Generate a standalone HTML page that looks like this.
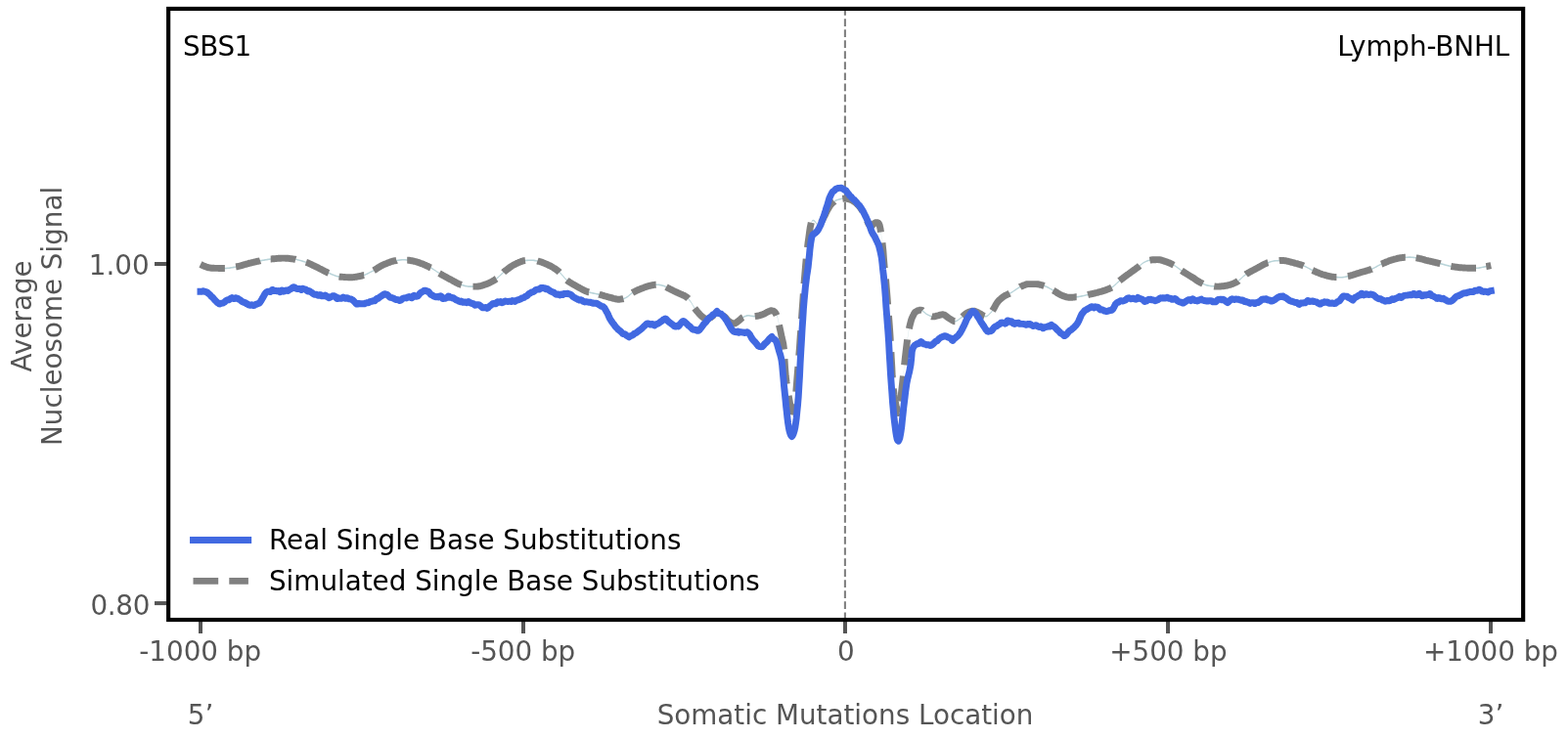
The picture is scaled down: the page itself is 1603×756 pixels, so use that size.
<!DOCTYPE html>
<html lang="en"><head><meta charset="utf-8"><title>SBS1 Lymph-BNHL nucleosome occupancy</title>
<style>
html,body{margin:0;padding:0;background:#fff;}
body{width:1603px;height:756px;overflow:hidden;}
svg{display:block;}
</style></head><body>
<svg width="1603" height="756" viewBox="0 0 1603 756">
<rect width="1603" height="756" fill="#ffffff"/>
<path d="M205.0,269.6 L206.0,270.1 L207.0,270.6 L208.0,271.1 L209.0,271.5 L210.0,271.9 L211.0,272.3 L212.0,272.6 L213.0,272.9 L214.0,273.1 L215.0,273.2 L216.0,273.3 L217.0,273.4 L218.0,273.5 L219.0,273.6 L220.0,273.6 L221.0,273.6 L222.0,273.6 L223.0,273.6 L224.0,273.7 L225.0,273.7 L226.0,273.7 L227.0,273.7 L228.0,273.7 L229.0,273.7 L230.0,273.7 L231.0,273.7 L232.0,273.6 L233.0,273.5 L234.0,273.4 L235.0,273.3 L236.0,273.1 L237.0,273.0 L238.0,272.8 L239.0,272.6 L240.0,272.4 L241.0,272.2 L242.0,272.0 L243.0,271.8 L244.0,271.6 L245.0,271.3 L246.0,271.1 L247.0,270.8 L248.0,270.5 L249.0,270.2 L250.0,269.9 L251.0,269.6 L252.0,269.3 L253.0,269.0 L254.0,268.8 L255.0,268.5 L256.0,268.3 L257.0,268.0 L258.0,267.8 L259.0,267.5 L260.0,267.3 L261.0,267.0 L262.0,266.8 L263.0,266.6 L264.0,266.4 L265.0,266.2 L266.0,266.0 L267.0,265.8 L268.0,265.6 L269.0,265.4 L270.0,265.3 L271.0,265.1 L272.0,264.9 L273.0,264.8 L274.0,264.6 L275.0,264.5 L276.0,264.3 L277.0,264.2 L278.0,264.1 L279.0,264.0 L280.0,263.9 L281.0,263.8 L282.0,263.7 L283.0,263.6 L284.0,263.6 L285.0,263.5 L286.0,263.4 L287.0,263.4 L288.0,263.3 L289.0,263.3 L290.0,263.3 L291.0,263.3 L292.0,263.4 L293.0,263.4 L294.0,263.5 L295.0,263.6 L296.0,263.7 L297.0,263.8 L298.0,263.9 L299.0,264.1 L300.0,264.2 L301.0,264.3 L302.0,264.5 L303.0,264.7 L304.0,264.9 L305.0,265.2 L306.0,265.4 L307.0,265.7 L308.0,266.0 L309.0,266.3 L310.0,266.6 L311.0,266.9 L312.0,267.2 L313.0,267.5 L314.0,267.9 L315.0,268.3 L316.0,268.7 L317.0,269.2 L318.0,269.6 L319.0,270.1 L320.0,270.6 L321.0,271.1 L322.0,271.6 L323.0,272.1 L324.0,272.5 L325.0,273.0 L326.0,273.5 L327.0,274.1 L328.0,274.6 L329.0,275.1 L330.0,275.6 L331.0,276.2 L332.0,276.7 L333.0,277.2 L334.0,277.6 L335.0,278.1 L336.0,278.5 L337.0,278.9 L338.0,279.3 L339.0,279.8 L340.0,280.2 L341.0,280.6 L342.0,281.0 L343.0,281.3 L344.0,281.7 L345.0,281.9 L346.0,282.1 L347.0,282.3 L348.0,282.4 L349.0,282.5 L350.0,282.5 L351.0,282.6 L352.0,282.7 L353.0,282.7 L354.0,282.8 L355.0,282.8 L356.0,282.9 L357.0,282.9 L358.0,282.9 L359.0,282.9 L360.0,282.9 L361.0,282.8 L362.0,282.7 L363.0,282.6 L364.0,282.4 L365.0,282.3 L366.0,282.1 L367.0,281.9 L368.0,281.7 L369.0,281.5 L370.0,281.2 L371.0,281.0 L372.0,280.7 L373.0,280.4 L374.0,280.0 L375.0,279.5 L376.0,279.1 L377.0,278.5 L378.0,278.0 L379.0,277.5 L380.0,277.0 L381.0,276.5 L382.0,275.9 L383.0,275.3 L384.0,274.7 L385.0,274.1 L386.0,273.4 L387.0,272.8 L388.0,272.2 L389.0,271.6 L390.0,271.0 L391.0,270.5 L392.0,270.0 L393.0,269.6 L394.0,269.2 L395.0,268.8 L396.0,268.4 L397.0,268.0 L398.0,267.6 L399.0,267.2 L400.0,266.9 L401.0,266.6 L402.0,266.3 L403.0,266.1 L404.0,265.9 L405.0,265.7 L406.0,265.6 L407.0,265.4 L408.0,265.3 L409.0,265.2 L410.0,265.1 L411.0,265.0 L412.0,265.0 L413.0,265.0 L414.0,265.0 L415.0,265.1 L416.0,265.2 L417.0,265.3 L418.0,265.5 L419.0,265.6 L420.0,265.8 L421.0,266.0 L422.0,266.1 L423.0,266.4 L424.0,266.6 L425.0,266.9 L426.0,267.2 L427.0,267.5 L428.0,267.8 L429.0,268.2 L430.0,268.5 L431.0,268.9 L432.0,269.2 L433.0,269.6 L434.0,270.1 L435.0,270.5 L436.0,271.0 L437.0,271.4 L438.0,271.9 L439.0,272.4 L440.0,273.0 L441.0,273.5 L442.0,274.1 L443.0,274.7 L444.0,275.4 L445.0,276.0 L446.0,276.7 L447.0,277.4 L448.0,278.0 L449.0,278.7 L450.0,279.3 L451.0,279.8 L452.0,280.4 L453.0,281.0 L454.0,281.6 L455.0,282.1 L456.0,282.7 L457.0,283.2 L458.0,283.8 L459.0,284.3 L460.0,284.8 L461.0,285.3 L462.0,285.9 L463.0,286.4 L464.0,287.0 L465.0,287.6 L466.0,288.1 L467.0,288.7 L468.0,289.2 L469.0,289.6 L470.0,290.0 L471.0,290.4 L472.0,290.7 L473.0,291.0 L474.0,291.3 L475.0,291.6 L476.0,291.8 L477.0,292.0 L478.0,292.2 L479.0,292.3 L480.0,292.3 L481.0,292.3 L482.0,292.3 L483.0,292.3 L484.0,292.3 L485.0,292.3 L486.0,292.3 L487.0,292.3 L488.0,292.3 L489.0,292.2 L490.0,292.0 L491.0,291.8 L492.0,291.6 L493.0,291.3 L494.0,290.9 L495.0,290.6 L496.0,290.2 L497.0,289.9 L498.0,289.6 L499.0,289.2 L500.0,288.7 L501.0,288.3 L502.0,287.7 L503.0,287.2 L504.0,286.6 L505.0,286.0 L506.0,285.4 L507.0,284.7 L508.0,283.9 L509.0,283.1 L510.0,282.2 L511.0,281.2 L512.0,280.3 L513.0,279.3 L514.0,278.4 L515.0,277.5 L516.0,276.7 L517.0,275.9 L518.0,275.2 L519.0,274.4 L520.0,273.6 L521.0,272.9 L522.0,272.2 L523.0,271.5 L524.0,270.9 L525.0,270.3 L526.0,269.8 L527.0,269.3 L528.0,268.8 L529.0,268.3 L530.0,267.9 L531.0,267.4 L532.0,267.0 L533.0,266.7 L534.0,266.3 L535.0,266.1 L536.0,265.9 L537.0,265.7 L538.0,265.6 L539.0,265.6 L540.0,265.5 L541.0,265.5 L542.0,265.4 L543.0,265.4 L544.0,265.4 L545.0,265.5 L546.0,265.6 L547.0,265.8 L548.0,266.0 L549.0,266.2 L550.0,266.4 L551.0,266.6 L552.0,266.9 L553.0,267.2 L554.0,267.5 L555.0,267.9 L556.0,268.2 L557.0,268.7 L558.0,269.1 L559.0,269.5 L560.0,270.0 L561.0,270.4 L562.0,270.9 L563.0,271.5 L564.0,272.0 L565.0,272.6 L566.0,273.2 L567.0,273.9 L568.0,274.5 L569.0,275.3 L570.0,276.0 L571.0,276.8 L572.0,277.7 L573.0,278.7 L574.0,279.8 L575.0,280.9 L576.0,282.1 L577.0,283.3 L578.0,284.4 L579.0,285.3 L580.0,286.2 L581.0,286.9 L582.0,287.6 L583.0,288.3 L584.0,288.9 L585.0,289.5 L586.0,290.1 L587.0,290.7 L588.0,291.2 L589.0,291.8 L590.0,292.3 L591.0,292.9 L592.0,293.4 L593.0,294.0 L594.0,294.6 L595.0,295.1 L596.0,295.7 L597.0,296.2 L598.0,296.6 L599.0,297.1 L600.0,297.5 L601.0,297.8 L602.0,298.1 L603.0,298.4 L604.0,298.6 L605.0,298.9 L606.0,299.1 L607.0,299.3 L608.0,299.5 L609.0,299.7 L610.0,299.9 L611.0,300.1 L612.0,300.3 L613.0,300.6 L614.0,300.8 L615.0,301.1 L616.0,301.4 L617.0,301.7 L618.0,301.9 L619.0,302.2 L620.0,302.5 L621.0,302.8 L622.0,303.1 L623.0,303.3 L624.0,303.6 L625.0,303.8 L626.0,304.1 L627.0,304.4 L628.0,304.7 L629.0,305.0 L630.0,305.2 L631.0,305.3 L632.0,305.4 L633.0,305.4 L634.0,305.3 L635.0,305.2 L636.0,305.1 L637.0,304.9 L638.0,304.6 L639.0,304.2 L640.0,303.7 L641.0,303.1 L642.0,302.4 L643.0,301.6 L644.0,300.7 L645.0,299.8 L646.0,299.1 L647.0,298.4 L648.0,297.9 L649.0,297.3 L650.0,296.8 L651.0,296.4 L652.0,295.9 L653.0,295.5 L654.0,295.1 L655.0,294.7 L656.0,294.3 L657.0,293.9 L658.0,293.5 L659.0,293.1 L660.0,292.8 L661.0,292.4 L662.0,292.1 L663.0,291.8 L664.0,291.6 L665.0,291.4 L666.0,291.1 L667.0,290.9 L668.0,290.7 L669.0,290.6 L670.0,290.4 L671.0,290.4 L672.0,290.4 L673.0,290.5 L674.0,290.6 L675.0,290.8 L676.0,291.0 L677.0,291.3 L678.0,291.5 L679.0,291.8 L680.0,292.2 L681.0,292.7 L682.0,293.3 L683.0,293.9 L684.0,294.4 L685.0,294.9 L686.0,295.4 L687.0,295.9 L688.0,296.4 L689.0,296.9 L690.0,297.4 L691.0,297.9 L692.0,298.4 L693.0,298.8 L694.0,299.3 L695.0,299.7 L696.0,300.1 L697.0,300.5 L698.0,301.0 L699.0,301.4 L700.0,301.9 L701.0,302.5 L702.0,303.2 L703.0,304.0 L704.0,305.1 L705.0,306.4 L706.0,307.7 L707.0,309.2 L708.0,311.0 L709.0,312.7 L710.0,314.3 L711.0,315.7 L712.0,316.9 L713.0,318.1 L714.0,319.3 L715.0,320.3 L716.0,321.4 L717.0,322.4 L718.0,323.3 L719.0,324.0 L720.0,324.7 L721.0,325.3 L722.0,325.5 L723.0,325.4 L724.0,325.1 L725.0,324.6 L726.0,324.2 L727.0,323.7 L728.0,322.9 L729.0,322.1 L730.0,321.4 L731.0,320.7 L732.0,320.2 L733.0,320.0 L734.0,320.1 L735.0,320.3 L736.0,320.7 L737.0,321.1 L738.0,321.6 L739.0,322.1 L740.0,322.7 L741.0,323.4 L742.0,324.5 L743.0,325.6 L744.0,326.8 L745.0,327.8 L746.0,328.5 L747.0,329.0 L748.0,329.5 L749.0,329.9 L750.0,330.2 L751.0,330.1 L752.0,329.7 L753.0,329.0 L754.0,328.3 L755.0,327.5 L756.0,326.7 L757.0,325.8 L758.0,324.9 L759.0,324.1 L760.0,323.6 L761.0,323.1 L762.0,322.7 L763.0,322.3 L764.0,322.1 L765.0,322.0 L766.0,322.1 L767.0,322.2 L768.0,322.4 L769.0,322.6 L770.0,322.7 L771.0,322.8 L772.0,322.8 L773.0,322.7 L774.0,322.5 L775.0,322.3 L776.0,322.0 L777.0,321.8 L778.0,321.4 L779.0,321.1 L780.0,320.8 L781.0,320.4 L782.0,319.9 L783.0,319.3 L784.0,318.7 L785.0,318.2 L786.0,317.7 L787.0,317.3 L788.0,317.0 L789.0,317.0 L790.0,317.3 L791.0,317.6 L792.0,318.4 L793.0,319.8 L794.0,321.7 L795.0,324.5 L796.0,329.0 L797.0,333.9 L798.0,338.5 L799.0,343.2 L800.0,347.6 L801.0,352.5 L802.0,366.5 L803.0,381.0 L804.0,390.0 L805.0,396.7 L806.0,403.0 L807.0,408.9 L808.0,414.5 L809.0,420.0 L810.0,419.5 L811.0,415.0 L812.0,411.5 L813.0,407.2 L814.0,397.9 L815.0,385.4 L816.0,373.5 L817.0,360.9 L818.0,347.0 L819.0,332.6 L820.0,317.9 L821.0,303.5 L822.0,289.6 L823.0,277.3 L824.0,266.4 L825.0,256.5 L826.0,248.0 L827.0,240.6 L828.0,233.8 L829.0,228.4 L830.0,225.5 L831.0,224.7 L832.0,224.8 L833.0,225.6 L834.0,226.8 L835.0,228.2 L836.0,228.4 L837.0,228.1 L838.0,227.7 L839.0,227.1 L840.0,225.8 L841.0,223.9 L842.0,221.8 L843.0,220.0 L844.0,217.9 L845.0,215.9 L846.0,214.0 L847.0,212.3 L848.0,210.6 L849.0,209.1 L850.0,207.9 L851.0,206.8 L852.0,205.9 L853.0,205.2 L854.0,204.6 L855.0,204.1 L856.0,203.7 L857.0,203.4 L858.0,203.1 L859.0,202.9 L860.0,202.6 L861.0,202.5 L862.0,202.4 L863.0,202.3 L864.0,202.3 L865.0,202.4 L866.0,202.5 L867.0,202.8 L868.0,203.0 L869.0,203.3 L870.0,203.7 L871.0,204.2 L872.0,204.7 L873.0,205.3 L874.0,206.0 L875.0,206.8 L876.0,207.7 L877.0,208.7 L878.0,209.8 L879.0,211.0 L880.0,212.4 L881.0,214.1 L882.0,215.8 L883.0,217.7 L884.0,219.6 L885.0,221.6 L886.0,223.7 L887.0,226.2 L888.0,228.5 L889.0,229.6 L890.0,230.3 L891.0,230.2 L892.0,229.4 L893.0,228.4 L894.0,227.6 L895.0,227.0 L896.0,226.9 L897.0,227.0 L898.0,227.3 L899.0,229.0 L900.0,233.3 L901.0,240.0 L902.0,247.5 L903.0,258.1 L904.0,270.2 L905.0,279.7 L906.0,290.3 L907.0,303.0 L908.0,315.6 L909.0,327.9 L910.0,342.6 L911.0,360.6 L912.0,379.9 L913.0,393.6 L914.0,402.7 L915.0,409.2 L916.0,413.7 L917.0,417.2 L918.0,420.9 L919.0,420.6 L920.0,413.9 L921.0,406.1 L922.0,396.8 L923.0,387.4 L924.0,378.1 L925.0,369.0 L926.0,359.9 L927.0,351.1 L928.0,343.9 L929.0,337.7 L930.0,332.7 L931.0,328.6 L932.0,325.4 L933.0,323.0 L934.0,321.0 L935.0,319.3 L936.0,318.2 L937.0,317.6 L938.0,317.1 L939.0,316.7 L940.0,316.4 L941.0,316.3 L942.0,316.5 L943.0,317.0 L944.0,317.8 L945.0,318.7 L946.0,319.6 L947.0,320.4 L948.0,320.9 L949.0,321.5 L950.0,322.0 L951.0,322.5 L952.0,322.8 L953.0,323.1 L954.0,323.1 L955.0,323.0 L956.0,322.8 L957.0,322.6 L958.0,322.3 L959.0,322.0 L960.0,321.7 L961.0,321.4 L962.0,321.2 L963.0,321.1 L964.0,321.0 L965.0,321.2 L966.0,321.7 L967.0,322.4 L968.0,323.2 L969.0,324.0 L970.0,324.7 L971.0,325.3 L972.0,325.9 L973.0,326.6 L974.0,327.1 L975.0,327.6 L976.0,327.9 L977.0,327.9 L978.0,327.5 L979.0,327.0 L980.0,326.2 L981.0,325.4 L982.0,324.6 L983.0,323.9 L984.0,323.1 L985.0,322.2 L986.0,321.3 L987.0,320.4 L988.0,319.6 L989.0,319.1 L990.0,318.7 L991.0,318.3 L992.0,317.9 L993.0,317.6 L994.0,317.4 L995.0,317.3 L996.0,317.4 L997.0,317.6 L998.0,318.1 L999.0,318.6 L1000.0,319.1 L1001.0,319.6 L1002.0,320.1 L1003.0,320.7 L1004.0,321.3 L1005.0,322.0 L1006.0,322.5 L1007.0,322.8 L1008.0,322.9 L1009.0,322.6 L1010.0,321.9 L1011.0,321.0 L1012.0,320.0 L1013.0,318.9 L1014.0,317.8 L1015.0,316.5 L1016.0,314.8 L1017.0,313.0 L1018.0,311.1 L1019.0,309.4 L1020.0,308.0 L1021.0,306.9 L1022.0,305.9 L1023.0,304.9 L1024.0,304.1 L1025.0,303.3 L1026.0,302.6 L1027.0,301.9 L1028.0,301.4 L1029.0,300.9 L1030.0,300.4 L1031.0,299.9 L1032.0,299.5 L1033.0,299.0 L1034.0,298.4 L1035.0,297.8 L1036.0,297.2 L1037.0,296.5 L1038.0,295.8 L1039.0,295.1 L1040.0,294.5 L1041.0,293.8 L1042.0,293.2 L1043.0,292.7 L1044.0,292.2 L1045.0,291.8 L1046.0,291.3 L1047.0,290.9 L1048.0,290.5 L1049.0,290.2 L1050.0,289.9 L1051.0,289.8 L1052.0,289.8 L1053.0,289.8 L1054.0,289.8 L1055.0,289.8 L1056.0,289.8 L1057.0,289.8 L1058.0,289.8 L1059.0,289.8 L1060.0,289.9 L1061.0,290.0 L1062.0,290.1 L1063.0,290.4 L1064.0,290.6 L1065.0,290.9 L1066.0,291.2 L1067.0,291.5 L1068.0,291.8 L1069.0,292.2 L1070.0,292.6 L1071.0,293.1 L1072.0,293.6 L1073.0,294.2 L1074.0,294.7 L1075.0,295.3 L1076.0,295.8 L1077.0,296.4 L1078.0,297.0 L1079.0,297.6 L1080.0,298.3 L1081.0,298.9 L1082.0,299.5 L1083.0,300.1 L1084.0,300.7 L1085.0,301.2 L1086.0,301.6 L1087.0,301.9 L1088.0,302.3 L1089.0,302.6 L1090.0,302.9 L1091.0,303.2 L1092.0,303.3 L1093.0,303.5 L1094.0,303.5 L1095.0,303.5 L1096.0,303.4 L1097.0,303.3 L1098.0,303.3 L1099.0,303.1 L1100.0,303.0 L1101.0,302.9 L1102.0,302.8 L1103.0,302.7 L1104.0,302.5 L1105.0,302.3 L1106.0,302.1 L1107.0,301.9 L1108.0,301.7 L1109.0,301.5 L1110.0,301.2 L1111.0,301.0 L1112.0,300.8 L1113.0,300.6 L1114.0,300.3 L1115.0,300.1 L1116.0,299.9 L1117.0,299.7 L1118.0,299.4 L1119.0,299.2 L1120.0,299.0 L1121.0,298.7 L1122.0,298.5 L1123.0,298.2 L1124.0,297.9 L1125.0,297.7 L1126.0,297.4 L1127.0,297.1 L1128.0,296.7 L1129.0,296.4 L1130.0,296.1 L1131.0,295.8 L1132.0,295.4 L1133.0,295.0 L1134.0,294.6 L1135.0,294.1 L1136.0,293.6 L1137.0,293.0 L1138.0,292.3 L1139.0,291.5 L1140.0,290.6 L1141.0,289.7 L1142.0,288.7 L1143.0,287.8 L1144.0,286.9 L1145.0,286.0 L1146.0,285.2 L1147.0,284.5 L1148.0,283.7 L1149.0,282.9 L1150.0,282.2 L1151.0,281.5 L1152.0,280.7 L1153.0,280.0 L1154.0,279.3 L1155.0,278.5 L1156.0,277.8 L1157.0,277.1 L1158.0,276.3 L1159.0,275.6 L1160.0,274.9 L1161.0,274.2 L1162.0,273.5 L1163.0,272.7 L1164.0,272.0 L1165.0,271.2 L1166.0,270.4 L1167.0,269.5 L1168.0,268.7 L1169.0,268.0 L1170.0,267.4 L1171.0,266.9 L1172.0,266.5 L1173.0,266.1 L1174.0,265.7 L1175.0,265.5 L1176.0,265.3 L1177.0,265.2 L1178.0,265.1 L1179.0,265.0 L1180.0,264.9 L1181.0,264.9 L1182.0,264.8 L1183.0,264.8 L1184.0,264.8 L1185.0,264.9 L1186.0,265.0 L1187.0,265.3 L1188.0,265.6 L1189.0,265.9 L1190.0,266.2 L1191.0,266.6 L1192.0,266.9 L1193.0,267.2 L1194.0,267.6 L1195.0,268.0 L1196.0,268.4 L1197.0,268.9 L1198.0,269.4 L1199.0,269.9 L1200.0,270.4 L1201.0,271.0 L1202.0,271.7 L1203.0,272.4 L1204.0,273.1 L1205.0,273.9 L1206.0,274.6 L1207.0,275.4 L1208.0,276.1 L1209.0,276.8 L1210.0,277.4 L1211.0,278.0 L1212.0,278.7 L1213.0,279.3 L1214.0,279.9 L1215.0,280.5 L1216.0,281.1 L1217.0,281.7 L1218.0,282.3 L1219.0,283.0 L1220.0,283.6 L1221.0,284.3 L1222.0,284.9 L1223.0,285.6 L1224.0,286.3 L1225.0,287.0 L1226.0,287.6 L1227.0,288.2 L1228.0,288.7 L1229.0,289.1 L1230.0,289.6 L1231.0,290.0 L1232.0,290.4 L1233.0,290.8 L1234.0,291.1 L1235.0,291.3 L1236.0,291.5 L1237.0,291.7 L1238.0,291.8 L1239.0,291.9 L1240.0,292.0 L1241.0,292.1 L1242.0,292.2 L1243.0,292.2 L1244.0,292.3 L1245.0,292.3 L1246.0,292.3 L1247.0,292.2 L1248.0,292.2 L1249.0,292.1 L1250.0,292.0 L1251.0,291.8 L1252.0,291.7 L1253.0,291.5 L1254.0,291.4 L1255.0,291.2 L1256.0,290.9 L1257.0,290.7 L1258.0,290.3 L1259.0,290.0 L1260.0,289.6 L1261.0,289.2 L1262.0,288.7 L1263.0,288.3 L1264.0,287.8 L1265.0,287.2 L1266.0,286.5 L1267.0,285.7 L1268.0,284.8 L1269.0,283.9 L1270.0,282.9 L1271.0,282.0 L1272.0,281.2 L1273.0,280.4 L1274.0,279.7 L1275.0,279.0 L1276.0,278.4 L1277.0,277.8 L1278.0,277.3 L1279.0,276.7 L1280.0,276.2 L1281.0,275.7 L1282.0,275.1 L1283.0,274.6 L1284.0,274.1 L1285.0,273.6 L1286.0,273.0 L1287.0,272.4 L1288.0,271.9 L1289.0,271.3 L1290.0,270.8 L1291.0,270.2 L1292.0,269.7 L1293.0,269.2 L1294.0,268.8 L1295.0,268.4 L1296.0,268.0 L1297.0,267.7 L1298.0,267.3 L1299.0,267.0 L1300.0,266.7 L1301.0,266.4 L1302.0,266.2 L1303.0,266.1 L1304.0,266.0 L1305.0,265.9 L1306.0,265.9 L1307.0,265.8 L1308.0,265.8 L1309.0,265.7 L1310.0,265.7 L1311.0,265.7 L1312.0,265.7 L1313.0,265.8 L1314.0,265.9 L1315.0,266.1 L1316.0,266.4 L1317.0,266.6 L1318.0,266.9 L1319.0,267.1 L1320.0,267.4 L1321.0,267.7 L1322.0,267.9 L1323.0,268.1 L1324.0,268.4 L1325.0,268.7 L1326.0,268.9 L1327.0,269.2 L1328.0,269.5 L1329.0,269.8 L1330.0,270.2 L1331.0,270.5 L1332.0,270.9 L1333.0,271.2 L1334.0,271.7 L1335.0,272.1 L1336.0,272.7 L1337.0,273.2 L1338.0,273.7 L1339.0,274.3 L1340.0,274.8 L1341.0,275.3 L1342.0,275.8 L1343.0,276.3 L1344.0,276.7 L1345.0,277.2 L1346.0,277.6 L1347.0,278.0 L1348.0,278.4 L1349.0,278.8 L1350.0,279.2 L1351.0,279.6 L1352.0,279.9 L1353.0,280.2 L1354.0,280.5 L1355.0,280.8 L1356.0,281.1 L1357.0,281.3 L1358.0,281.6 L1359.0,281.8 L1360.0,282.0 L1361.0,282.2 L1362.0,282.4 L1363.0,282.5 L1364.0,282.6 L1365.0,282.7 L1366.0,282.7 L1367.0,282.8 L1368.0,282.8 L1369.0,282.9 L1370.0,282.9 L1371.0,282.9 L1372.0,282.9 L1373.0,282.8 L1374.0,282.7 L1375.0,282.5 L1376.0,282.3 L1377.0,282.1 L1378.0,281.8 L1379.0,281.6 L1380.0,281.4 L1381.0,281.1 L1382.0,280.8 L1383.0,280.5 L1384.0,280.2 L1385.0,279.8 L1386.0,279.5 L1387.0,279.1 L1388.0,278.8 L1389.0,278.5 L1390.0,278.2 L1391.0,277.9 L1392.0,277.6 L1393.0,277.4 L1394.0,277.1 L1395.0,276.8 L1396.0,276.5 L1397.0,276.2 L1398.0,275.9 L1399.0,275.6 L1400.0,275.3 L1401.0,274.9 L1402.0,274.6 L1403.0,274.1 L1404.0,273.7 L1405.0,273.2 L1406.0,272.7 L1407.0,272.1 L1408.0,271.6 L1409.0,271.0 L1410.0,270.5 L1411.0,270.0 L1412.0,269.5 L1413.0,269.1 L1414.0,268.6 L1415.0,268.2 L1416.0,267.7 L1417.0,267.3 L1418.0,266.9 L1419.0,266.5 L1420.0,266.1 L1421.0,265.7 L1422.0,265.4 L1423.0,265.1 L1424.0,264.8 L1425.0,264.5 L1426.0,264.2 L1427.0,264.0 L1428.0,263.7 L1429.0,263.5 L1430.0,263.3 L1431.0,263.1 L1432.0,262.9 L1433.0,262.8 L1434.0,262.7 L1435.0,262.6 L1436.0,262.5 L1437.0,262.5 L1438.0,262.4 L1439.0,262.4 L1440.0,262.3 L1441.0,262.3 L1442.0,262.3 L1443.0,262.4 L1444.0,262.5 L1445.0,262.6 L1446.0,262.7 L1447.0,262.9 L1448.0,263.1 L1449.0,263.2 L1450.0,263.4 L1451.0,263.6 L1452.0,263.9 L1453.0,264.1 L1454.0,264.4 L1455.0,264.6 L1456.0,264.9 L1457.0,265.2 L1458.0,265.5 L1459.0,265.7 L1460.0,266.0 L1461.0,266.2 L1462.0,266.5 L1463.0,266.7 L1464.0,266.9 L1465.0,267.2 L1466.0,267.4 L1467.0,267.6 L1468.0,267.8 L1469.0,268.1 L1470.0,268.3 L1471.0,268.5 L1472.0,268.8 L1473.0,269.0 L1474.0,269.3 L1475.0,269.5 L1476.0,269.8 L1477.0,270.1 L1478.0,270.4 L1479.0,270.6 L1480.0,270.9 L1481.0,271.1 L1482.0,271.4 L1483.0,271.6 L1484.0,271.7 L1485.0,271.9 L1486.0,272.1 L1487.0,272.2 L1488.0,272.4 L1489.0,272.5 L1490.0,272.6 L1491.0,272.8 L1492.0,272.9 L1493.0,273.0 L1494.0,273.1 L1495.0,273.1 L1496.0,273.2 L1497.0,273.2 L1498.0,273.3 L1499.0,273.3 L1500.0,273.3 L1501.0,273.4 L1502.0,273.4 L1503.0,273.4 L1504.0,273.4 L1505.0,273.5 L1506.0,273.5 L1507.0,273.5 L1508.0,273.5 L1509.0,273.5 L1510.0,273.5 L1511.0,273.4 L1512.0,273.3 L1513.0,273.1 L1514.0,272.9 L1515.0,272.7 L1516.0,272.5 L1517.0,272.3 L1518.0,272.1 L1519.0,271.9 L1520.0,271.7 L1521.0,271.5 L1522.0,271.3 L1523.0,271.1 L1524.0,270.9 L1524.0,272.5 L1523.0,272.7 L1522.0,272.9 L1521.0,273.1 L1520.0,273.3 L1519.0,273.5 L1518.0,273.7 L1517.0,273.9 L1516.0,274.1 L1515.0,274.3 L1514.0,274.5 L1513.0,274.7 L1512.0,274.9 L1511.0,275.0 L1510.0,275.1 L1509.0,275.1 L1508.0,275.1 L1507.0,275.1 L1506.0,275.1 L1505.0,275.1 L1504.0,275.0 L1503.0,275.0 L1502.0,275.0 L1501.0,275.0 L1500.0,274.9 L1499.0,274.9 L1498.0,274.9 L1497.0,274.8 L1496.0,274.8 L1495.0,274.7 L1494.0,274.7 L1493.0,274.6 L1492.0,274.5 L1491.0,274.4 L1490.0,274.2 L1489.0,274.1 L1488.0,274.0 L1487.0,273.8 L1486.0,273.7 L1485.0,273.5 L1484.0,273.3 L1483.0,273.2 L1482.0,273.0 L1481.0,272.7 L1480.0,272.5 L1479.0,272.2 L1478.0,272.0 L1477.0,271.7 L1476.0,271.4 L1475.0,271.1 L1474.0,270.9 L1473.0,270.6 L1472.0,270.4 L1471.0,270.1 L1470.0,269.9 L1469.0,269.7 L1468.0,269.4 L1467.0,269.2 L1466.0,269.0 L1465.0,268.8 L1464.0,268.5 L1463.0,268.3 L1462.0,268.1 L1461.0,267.8 L1460.0,267.6 L1459.0,267.3 L1458.0,267.1 L1457.0,266.8 L1456.0,266.5 L1455.0,266.2 L1454.0,266.0 L1453.0,265.7 L1452.0,265.5 L1451.0,265.2 L1450.0,265.0 L1449.0,264.8 L1448.0,264.7 L1447.0,264.5 L1446.0,264.3 L1445.0,264.2 L1444.0,264.1 L1443.0,264.0 L1442.0,263.9 L1441.0,263.9 L1440.0,263.9 L1439.0,264.0 L1438.0,264.0 L1437.0,264.1 L1436.0,264.1 L1435.0,264.2 L1434.0,264.3 L1433.0,264.4 L1432.0,264.5 L1431.0,264.7 L1430.0,264.9 L1429.0,265.1 L1428.0,265.3 L1427.0,265.6 L1426.0,265.8 L1425.0,266.1 L1424.0,266.4 L1423.0,266.7 L1422.0,267.0 L1421.0,267.3 L1420.0,267.7 L1419.0,268.1 L1418.0,268.5 L1417.0,268.9 L1416.0,269.3 L1415.0,269.8 L1414.0,270.2 L1413.0,270.7 L1412.0,271.1 L1411.0,271.6 L1410.0,272.1 L1409.0,272.6 L1408.0,273.2 L1407.0,273.7 L1406.0,274.3 L1405.0,274.8 L1404.0,275.3 L1403.0,275.7 L1402.0,276.2 L1401.0,276.5 L1400.0,276.9 L1399.0,277.2 L1398.0,277.5 L1397.0,277.8 L1396.0,278.1 L1395.0,278.4 L1394.0,278.7 L1393.0,279.0 L1392.0,279.2 L1391.0,279.5 L1390.0,279.8 L1389.0,280.1 L1388.0,280.4 L1387.0,280.7 L1386.0,281.1 L1385.0,281.4 L1384.0,281.8 L1383.0,282.1 L1382.0,282.4 L1381.0,282.7 L1380.0,283.0 L1379.0,283.2 L1378.0,283.4 L1377.0,283.7 L1376.0,283.9 L1375.0,284.1 L1374.0,284.3 L1373.0,284.4 L1372.0,284.5 L1371.0,284.5 L1370.0,284.5 L1369.0,284.5 L1368.0,284.4 L1367.0,284.4 L1366.0,284.3 L1365.0,284.3 L1364.0,284.2 L1363.0,284.1 L1362.0,284.0 L1361.0,283.8 L1360.0,283.6 L1359.0,283.4 L1358.0,283.2 L1357.0,282.9 L1356.0,282.7 L1355.0,282.4 L1354.0,282.1 L1353.0,281.8 L1352.0,281.5 L1351.0,281.2 L1350.0,280.8 L1349.0,280.4 L1348.0,280.0 L1347.0,279.6 L1346.0,279.2 L1345.0,278.8 L1344.0,278.3 L1343.0,277.9 L1342.0,277.4 L1341.0,276.9 L1340.0,276.4 L1339.0,275.9 L1338.0,275.3 L1337.0,274.8 L1336.0,274.3 L1335.0,273.7 L1334.0,273.3 L1333.0,272.8 L1332.0,272.5 L1331.0,272.1 L1330.0,271.8 L1329.0,271.4 L1328.0,271.1 L1327.0,270.8 L1326.0,270.5 L1325.0,270.3 L1324.0,270.0 L1323.0,269.7 L1322.0,269.5 L1321.0,269.3 L1320.0,269.0 L1319.0,268.7 L1318.0,268.5 L1317.0,268.2 L1316.0,268.0 L1315.0,267.7 L1314.0,267.5 L1313.0,267.4 L1312.0,267.3 L1311.0,267.3 L1310.0,267.3 L1309.0,267.3 L1308.0,267.4 L1307.0,267.4 L1306.0,267.5 L1305.0,267.5 L1304.0,267.6 L1303.0,267.7 L1302.0,267.8 L1301.0,268.0 L1300.0,268.3 L1299.0,268.6 L1298.0,268.9 L1297.0,269.3 L1296.0,269.6 L1295.0,270.0 L1294.0,270.4 L1293.0,270.8 L1292.0,271.3 L1291.0,271.8 L1290.0,272.4 L1289.0,272.9 L1288.0,273.5 L1287.0,274.0 L1286.0,274.6 L1285.0,275.2 L1284.0,275.7 L1283.0,276.2 L1282.0,276.7 L1281.0,277.3 L1280.0,277.8 L1279.0,278.3 L1278.0,278.9 L1277.0,279.4 L1276.0,280.0 L1275.0,280.6 L1274.0,281.3 L1273.0,282.0 L1272.0,282.8 L1271.0,283.6 L1270.0,284.5 L1269.0,285.5 L1268.0,286.4 L1267.0,287.3 L1266.0,288.1 L1265.0,288.8 L1264.0,289.4 L1263.0,289.9 L1262.0,290.3 L1261.0,290.8 L1260.0,291.2 L1259.0,291.6 L1258.0,291.9 L1257.0,292.3 L1256.0,292.5 L1255.0,292.8 L1254.0,293.0 L1253.0,293.1 L1252.0,293.3 L1251.0,293.4 L1250.0,293.6 L1249.0,293.7 L1248.0,293.8 L1247.0,293.8 L1246.0,293.9 L1245.0,293.9 L1244.0,293.9 L1243.0,293.8 L1242.0,293.8 L1241.0,293.7 L1240.0,293.6 L1239.0,293.5 L1238.0,293.4 L1237.0,293.3 L1236.0,293.1 L1235.0,292.9 L1234.0,292.7 L1233.0,292.4 L1232.0,292.0 L1231.0,291.6 L1230.0,291.2 L1229.0,290.7 L1228.0,290.3 L1227.0,289.8 L1226.0,289.2 L1225.0,288.6 L1224.0,287.9 L1223.0,287.2 L1222.0,286.5 L1221.0,285.9 L1220.0,285.2 L1219.0,284.6 L1218.0,283.9 L1217.0,283.3 L1216.0,282.7 L1215.0,282.1 L1214.0,281.5 L1213.0,280.9 L1212.0,280.3 L1211.0,279.6 L1210.0,279.0 L1209.0,278.4 L1208.0,277.7 L1207.0,277.0 L1206.0,276.2 L1205.0,275.5 L1204.0,274.7 L1203.0,274.0 L1202.0,273.3 L1201.0,272.6 L1200.0,272.0 L1199.0,271.5 L1198.0,271.0 L1197.0,270.5 L1196.0,270.0 L1195.0,269.6 L1194.0,269.2 L1193.0,268.8 L1192.0,268.5 L1191.0,268.2 L1190.0,267.8 L1189.0,267.5 L1188.0,267.2 L1187.0,266.9 L1186.0,266.6 L1185.0,266.5 L1184.0,266.4 L1183.0,266.4 L1182.0,266.4 L1181.0,266.5 L1180.0,266.5 L1179.0,266.6 L1178.0,266.7 L1177.0,266.8 L1176.0,266.9 L1175.0,267.1 L1174.0,267.3 L1173.0,267.7 L1172.0,268.1 L1171.0,268.5 L1170.0,269.0 L1169.0,269.6 L1168.0,270.3 L1167.0,271.1 L1166.0,272.0 L1165.0,272.8 L1164.0,273.6 L1163.0,274.3 L1162.0,275.1 L1161.0,275.8 L1160.0,276.5 L1159.0,277.2 L1158.0,277.9 L1157.0,278.7 L1156.0,279.4 L1155.0,280.1 L1154.0,280.9 L1153.0,281.6 L1152.0,282.3 L1151.0,283.1 L1150.0,283.8 L1149.0,284.5 L1148.0,285.3 L1147.0,286.1 L1146.0,286.8 L1145.0,287.6 L1144.0,288.5 L1143.0,289.4 L1142.0,290.3 L1141.0,291.3 L1140.0,292.2 L1139.0,293.1 L1138.0,293.9 L1137.0,294.6 L1136.0,295.2 L1135.0,295.7 L1134.0,296.2 L1133.0,296.6 L1132.0,297.0 L1131.0,297.4 L1130.0,297.7 L1129.0,298.0 L1128.0,298.3 L1127.0,298.7 L1126.0,299.0 L1125.0,299.3 L1124.0,299.5 L1123.0,299.8 L1122.0,300.1 L1121.0,300.3 L1120.0,300.6 L1119.0,300.8 L1118.0,301.0 L1117.0,301.3 L1116.0,301.5 L1115.0,301.7 L1114.0,301.9 L1113.0,302.2 L1112.0,302.4 L1111.0,302.6 L1110.0,302.8 L1109.0,303.1 L1108.0,303.3 L1107.0,303.5 L1106.0,303.7 L1105.0,303.9 L1104.0,304.1 L1103.0,304.3 L1102.0,304.4 L1101.0,304.5 L1100.0,304.6 L1099.0,304.7 L1098.0,304.9 L1097.0,304.9 L1096.0,305.0 L1095.0,305.1 L1094.0,305.1 L1093.0,305.1 L1092.0,304.9 L1091.0,304.8 L1090.0,304.5 L1089.0,304.2 L1088.0,303.9 L1087.0,303.5 L1086.0,303.2 L1085.0,302.8 L1084.0,302.3 L1083.0,301.7 L1082.0,301.1 L1081.0,300.5 L1080.0,299.9 L1079.0,299.2 L1078.0,298.6 L1077.0,298.0 L1076.0,297.4 L1075.0,296.9 L1074.0,296.3 L1073.0,295.8 L1072.0,295.2 L1071.0,294.7 L1070.0,294.2 L1069.0,293.8 L1068.0,293.4 L1067.0,293.1 L1066.0,292.8 L1065.0,292.5 L1064.0,292.2 L1063.0,292.0 L1062.0,291.7 L1061.0,291.6 L1060.0,291.5 L1059.0,291.4 L1058.0,291.4 L1057.0,291.4 L1056.0,291.4 L1055.0,291.4 L1054.0,291.4 L1053.0,291.4 L1052.0,291.4 L1051.0,291.4 L1050.0,291.5 L1049.0,291.8 L1048.0,292.1 L1047.0,292.5 L1046.0,292.9 L1045.0,293.4 L1044.0,293.8 L1043.0,294.3 L1042.0,294.8 L1041.0,295.4 L1040.0,296.1 L1039.0,296.7 L1038.0,297.4 L1037.0,298.1 L1036.0,298.8 L1035.0,299.4 L1034.0,300.0 L1033.0,300.6 L1032.0,301.1 L1031.0,301.5 L1030.0,302.0 L1029.0,302.5 L1028.0,303.0 L1027.0,303.5 L1026.0,304.2 L1025.0,304.9 L1024.0,305.7 L1023.0,306.5 L1022.0,307.5 L1021.0,308.5 L1020.0,309.6 L1019.0,311.0 L1018.0,312.7 L1017.0,314.6 L1016.0,316.4 L1015.0,318.1 L1014.0,319.4 L1013.0,320.5 L1012.0,321.6 L1011.0,322.6 L1010.0,323.5 L1009.0,324.2 L1008.0,324.5 L1007.0,324.4 L1006.0,324.1 L1005.0,323.6 L1004.0,322.9 L1003.0,322.3 L1002.0,321.7 L1001.0,321.2 L1000.0,320.7 L999.0,320.2 L998.0,319.7 L997.0,319.2 L996.0,319.0 L995.0,318.9 L994.0,319.0 L993.0,319.2 L992.0,319.5 L991.0,319.9 L990.0,320.3 L989.0,320.7 L988.0,321.2 L987.0,322.0 L986.0,322.9 L985.0,323.8 L984.0,324.7 L983.0,325.5 L982.0,326.2 L981.0,327.0 L980.0,327.8 L979.0,328.6 L978.0,329.1 L977.0,329.5 L976.0,329.5 L975.0,329.2 L974.0,328.7 L973.0,328.2 L972.0,327.5 L971.0,326.9 L970.0,326.3 L969.0,325.6 L968.0,324.8 L967.0,324.0 L966.0,323.3 L965.0,322.8 L964.0,322.6 L963.0,322.7 L962.0,322.8 L961.0,323.0 L960.0,323.3 L959.0,323.6 L958.0,323.9 L957.0,324.2 L956.0,324.4 L955.0,324.6 L954.0,324.7 L953.0,324.7 L952.0,324.4 L951.0,324.1 L950.0,323.6 L949.0,323.1 L948.0,322.5 L947.0,322.0 L946.0,321.2 L945.0,320.3 L944.0,319.4 L943.0,318.6 L942.0,318.1 L941.0,317.9 L940.0,318.0 L939.0,318.3 L938.0,318.7 L937.0,319.2 L936.0,319.8 L935.0,320.9 L934.0,322.6 L933.0,324.6 L932.0,327.0 L931.0,330.2 L930.0,334.3 L929.0,339.3 L928.0,345.5 L927.0,352.7 L926.0,361.5 L925.0,370.6 L924.0,379.7 L923.0,389.0 L922.0,398.4 L921.0,407.7 L920.0,415.5 L919.0,422.2 L918.0,422.5 L917.0,418.8 L916.0,415.3 L915.0,410.8 L914.0,404.3 L913.0,395.2 L912.0,381.5 L911.0,362.2 L910.0,344.2 L909.0,329.5 L908.0,317.2 L907.0,304.6 L906.0,291.9 L905.0,281.3 L904.0,271.8 L903.0,259.7 L902.0,249.1 L901.0,241.6 L900.0,234.9 L899.0,230.6 L898.0,228.9 L897.0,228.6 L896.0,228.5 L895.0,228.6 L894.0,229.2 L893.0,230.0 L892.0,231.0 L891.0,231.8 L890.0,231.9 L889.0,231.2 L888.0,230.1 L887.0,227.8 L886.0,225.3 L885.0,223.2 L884.0,221.2 L883.0,219.3 L882.0,217.4 L881.0,215.7 L880.0,214.0 L879.0,212.6 L878.0,211.4 L877.0,210.3 L876.0,209.3 L875.0,208.4 L874.0,207.6 L873.0,206.9 L872.0,206.3 L871.0,205.8 L870.0,205.3 L869.0,204.9 L868.0,204.6 L867.0,204.4 L866.0,204.1 L865.0,204.0 L864.0,203.9 L863.0,203.9 L862.0,204.0 L861.0,204.1 L860.0,204.2 L859.0,204.5 L858.0,204.7 L857.0,205.0 L856.0,205.3 L855.0,205.7 L854.0,206.2 L853.0,206.8 L852.0,207.5 L851.0,208.4 L850.0,209.5 L849.0,210.7 L848.0,212.2 L847.0,213.9 L846.0,215.6 L845.0,217.5 L844.0,219.5 L843.0,221.6 L842.0,223.4 L841.0,225.5 L840.0,227.4 L839.0,228.7 L838.0,229.3 L837.0,229.7 L836.0,230.0 L835.0,229.8 L834.0,228.4 L833.0,227.2 L832.0,226.4 L831.0,226.3 L830.0,227.1 L829.0,230.0 L828.0,235.4 L827.0,242.2 L826.0,249.6 L825.0,258.1 L824.0,268.0 L823.0,278.9 L822.0,291.2 L821.0,305.1 L820.0,319.5 L819.0,334.2 L818.0,348.6 L817.0,362.5 L816.0,375.1 L815.0,387.0 L814.0,399.5 L813.0,408.8 L812.0,413.1 L811.0,416.6 L810.0,421.1 L809.0,421.6 L808.0,416.1 L807.0,410.5 L806.0,404.6 L805.0,398.3 L804.0,391.6 L803.0,382.6 L802.0,368.1 L801.0,354.1 L800.0,349.2 L799.0,344.8 L798.0,340.1 L797.0,335.5 L796.0,330.6 L795.0,326.1 L794.0,323.3 L793.0,321.4 L792.0,320.0 L791.0,319.2 L790.0,318.9 L789.0,318.6 L788.0,318.6 L787.0,318.9 L786.0,319.3 L785.0,319.8 L784.0,320.3 L783.0,320.9 L782.0,321.5 L781.0,322.0 L780.0,322.4 L779.0,322.7 L778.0,323.0 L777.0,323.4 L776.0,323.6 L775.0,323.9 L774.0,324.1 L773.0,324.3 L772.0,324.4 L771.0,324.4 L770.0,324.3 L769.0,324.2 L768.0,324.0 L767.0,323.8 L766.0,323.7 L765.0,323.6 L764.0,323.7 L763.0,323.9 L762.0,324.3 L761.0,324.7 L760.0,325.2 L759.0,325.7 L758.0,326.5 L757.0,327.4 L756.0,328.3 L755.0,329.1 L754.0,329.9 L753.0,330.6 L752.0,331.3 L751.0,331.7 L750.0,331.8 L749.0,331.5 L748.0,331.1 L747.0,330.6 L746.0,330.1 L745.0,329.4 L744.0,328.4 L743.0,327.2 L742.0,326.1 L741.0,325.0 L740.0,324.3 L739.0,323.7 L738.0,323.2 L737.0,322.7 L736.0,322.3 L735.0,321.9 L734.0,321.7 L733.0,321.6 L732.0,321.8 L731.0,322.3 L730.0,323.0 L729.0,323.7 L728.0,324.5 L727.0,325.3 L726.0,325.8 L725.0,326.2 L724.0,326.7 L723.0,327.0 L722.0,327.1 L721.0,326.9 L720.0,326.3 L719.0,325.6 L718.0,324.9 L717.0,324.0 L716.0,323.0 L715.0,321.9 L714.0,320.9 L713.0,319.7 L712.0,318.5 L711.0,317.3 L710.0,315.9 L709.0,314.3 L708.0,312.6 L707.0,310.8 L706.0,309.3 L705.0,308.0 L704.0,306.7 L703.0,305.6 L702.0,304.8 L701.0,304.1 L700.0,303.5 L699.0,303.0 L698.0,302.6 L697.0,302.1 L696.0,301.7 L695.0,301.3 L694.0,300.9 L693.0,300.4 L692.0,300.0 L691.0,299.5 L690.0,299.0 L689.0,298.5 L688.0,298.0 L687.0,297.5 L686.0,297.0 L685.0,296.5 L684.0,296.0 L683.0,295.5 L682.0,294.9 L681.0,294.3 L680.0,293.8 L679.0,293.4 L678.0,293.1 L677.0,292.9 L676.0,292.6 L675.0,292.4 L674.0,292.2 L673.0,292.1 L672.0,292.0 L671.0,292.0 L670.0,292.0 L669.0,292.2 L668.0,292.3 L667.0,292.5 L666.0,292.7 L665.0,293.0 L664.0,293.2 L663.0,293.4 L662.0,293.7 L661.0,294.0 L660.0,294.4 L659.0,294.7 L658.0,295.1 L657.0,295.5 L656.0,295.9 L655.0,296.3 L654.0,296.7 L653.0,297.1 L652.0,297.5 L651.0,298.0 L650.0,298.4 L649.0,298.9 L648.0,299.5 L647.0,300.0 L646.0,300.7 L645.0,301.4 L644.0,302.3 L643.0,303.2 L642.0,304.0 L641.0,304.7 L640.0,305.3 L639.0,305.8 L638.0,306.2 L637.0,306.5 L636.0,306.7 L635.0,306.8 L634.0,306.9 L633.0,307.0 L632.0,307.0 L631.0,306.9 L630.0,306.8 L629.0,306.6 L628.0,306.3 L627.0,306.0 L626.0,305.7 L625.0,305.4 L624.0,305.2 L623.0,304.9 L622.0,304.7 L621.0,304.4 L620.0,304.1 L619.0,303.8 L618.0,303.5 L617.0,303.3 L616.0,303.0 L615.0,302.7 L614.0,302.4 L613.0,302.2 L612.0,301.9 L611.0,301.7 L610.0,301.5 L609.0,301.3 L608.0,301.1 L607.0,300.9 L606.0,300.7 L605.0,300.5 L604.0,300.2 L603.0,300.0 L602.0,299.7 L601.0,299.4 L600.0,299.1 L599.0,298.7 L598.0,298.2 L597.0,297.8 L596.0,297.3 L595.0,296.7 L594.0,296.2 L593.0,295.6 L592.0,295.0 L591.0,294.5 L590.0,293.9 L589.0,293.4 L588.0,292.8 L587.0,292.3 L586.0,291.7 L585.0,291.1 L584.0,290.5 L583.0,289.9 L582.0,289.2 L581.0,288.5 L580.0,287.8 L579.0,286.9 L578.0,286.0 L577.0,284.9 L576.0,283.7 L575.0,282.5 L574.0,281.4 L573.0,280.3 L572.0,279.3 L571.0,278.4 L570.0,277.6 L569.0,276.9 L568.0,276.1 L567.0,275.5 L566.0,274.8 L565.0,274.2 L564.0,273.6 L563.0,273.1 L562.0,272.5 L561.0,272.0 L560.0,271.6 L559.0,271.1 L558.0,270.7 L557.0,270.3 L556.0,269.8 L555.0,269.5 L554.0,269.1 L553.0,268.8 L552.0,268.5 L551.0,268.2 L550.0,268.0 L549.0,267.8 L548.0,267.6 L547.0,267.4 L546.0,267.2 L545.0,267.1 L544.0,267.0 L543.0,267.0 L542.0,267.0 L541.0,267.1 L540.0,267.1 L539.0,267.2 L538.0,267.2 L537.0,267.3 L536.0,267.5 L535.0,267.7 L534.0,267.9 L533.0,268.3 L532.0,268.6 L531.0,269.0 L530.0,269.5 L529.0,269.9 L528.0,270.4 L527.0,270.9 L526.0,271.4 L525.0,271.9 L524.0,272.5 L523.0,273.1 L522.0,273.8 L521.0,274.5 L520.0,275.2 L519.0,276.0 L518.0,276.8 L517.0,277.5 L516.0,278.3 L515.0,279.1 L514.0,280.0 L513.0,280.9 L512.0,281.9 L511.0,282.8 L510.0,283.8 L509.0,284.7 L508.0,285.5 L507.0,286.3 L506.0,287.0 L505.0,287.6 L504.0,288.2 L503.0,288.8 L502.0,289.3 L501.0,289.9 L500.0,290.3 L499.0,290.8 L498.0,291.2 L497.0,291.5 L496.0,291.8 L495.0,292.2 L494.0,292.5 L493.0,292.9 L492.0,293.2 L491.0,293.4 L490.0,293.6 L489.0,293.8 L488.0,293.9 L487.0,293.9 L486.0,293.9 L485.0,293.9 L484.0,293.9 L483.0,293.9 L482.0,293.9 L481.0,293.9 L480.0,293.9 L479.0,293.9 L478.0,293.8 L477.0,293.6 L476.0,293.4 L475.0,293.2 L474.0,292.9 L473.0,292.6 L472.0,292.3 L471.0,292.0 L470.0,291.6 L469.0,291.2 L468.0,290.8 L467.0,290.3 L466.0,289.7 L465.0,289.2 L464.0,288.6 L463.0,288.0 L462.0,287.5 L461.0,286.9 L460.0,286.4 L459.0,285.9 L458.0,285.4 L457.0,284.8 L456.0,284.3 L455.0,283.7 L454.0,283.2 L453.0,282.6 L452.0,282.0 L451.0,281.4 L450.0,280.9 L449.0,280.3 L448.0,279.6 L447.0,279.0 L446.0,278.3 L445.0,277.6 L444.0,277.0 L443.0,276.3 L442.0,275.7 L441.0,275.1 L440.0,274.6 L439.0,274.0 L438.0,273.5 L437.0,273.0 L436.0,272.6 L435.0,272.1 L434.0,271.7 L433.0,271.2 L432.0,270.8 L431.0,270.5 L430.0,270.1 L429.0,269.8 L428.0,269.4 L427.0,269.1 L426.0,268.8 L425.0,268.5 L424.0,268.2 L423.0,268.0 L422.0,267.7 L421.0,267.6 L420.0,267.4 L419.0,267.2 L418.0,267.1 L417.0,266.9 L416.0,266.8 L415.0,266.7 L414.0,266.6 L413.0,266.6 L412.0,266.6 L411.0,266.6 L410.0,266.7 L409.0,266.8 L408.0,266.9 L407.0,267.0 L406.0,267.2 L405.0,267.3 L404.0,267.5 L403.0,267.7 L402.0,267.9 L401.0,268.2 L400.0,268.5 L399.0,268.8 L398.0,269.2 L397.0,269.6 L396.0,270.0 L395.0,270.4 L394.0,270.8 L393.0,271.2 L392.0,271.6 L391.0,272.1 L390.0,272.6 L389.0,273.2 L388.0,273.8 L387.0,274.4 L386.0,275.0 L385.0,275.7 L384.0,276.3 L383.0,276.9 L382.0,277.5 L381.0,278.1 L380.0,278.6 L379.0,279.1 L378.0,279.6 L377.0,280.1 L376.0,280.7 L375.0,281.1 L374.0,281.6 L373.0,282.0 L372.0,282.3 L371.0,282.6 L370.0,282.8 L369.0,283.1 L368.0,283.3 L367.0,283.5 L366.0,283.7 L365.0,283.9 L364.0,284.0 L363.0,284.2 L362.0,284.3 L361.0,284.4 L360.0,284.5 L359.0,284.5 L358.0,284.5 L357.0,284.5 L356.0,284.5 L355.0,284.4 L354.0,284.4 L353.0,284.3 L352.0,284.3 L351.0,284.2 L350.0,284.1 L349.0,284.1 L348.0,284.0 L347.0,283.9 L346.0,283.7 L345.0,283.5 L344.0,283.3 L343.0,282.9 L342.0,282.6 L341.0,282.2 L340.0,281.8 L339.0,281.4 L338.0,280.9 L337.0,280.5 L336.0,280.1 L335.0,279.7 L334.0,279.2 L333.0,278.8 L332.0,278.3 L331.0,277.8 L330.0,277.2 L329.0,276.7 L328.0,276.2 L327.0,275.7 L326.0,275.1 L325.0,274.6 L324.0,274.1 L323.0,273.7 L322.0,273.2 L321.0,272.7 L320.0,272.2 L319.0,271.7 L318.0,271.2 L317.0,270.8 L316.0,270.3 L315.0,269.9 L314.0,269.5 L313.0,269.1 L312.0,268.8 L311.0,268.5 L310.0,268.2 L309.0,267.9 L308.0,267.6 L307.0,267.3 L306.0,267.0 L305.0,266.8 L304.0,266.5 L303.0,266.3 L302.0,266.1 L301.0,265.9 L300.0,265.8 L299.0,265.7 L298.0,265.5 L297.0,265.4 L296.0,265.3 L295.0,265.2 L294.0,265.1 L293.0,265.0 L292.0,265.0 L291.0,264.9 L290.0,264.9 L289.0,264.9 L288.0,264.9 L287.0,265.0 L286.0,265.0 L285.0,265.1 L284.0,265.2 L283.0,265.2 L282.0,265.3 L281.0,265.4 L280.0,265.5 L279.0,265.6 L278.0,265.7 L277.0,265.8 L276.0,265.9 L275.0,266.1 L274.0,266.2 L273.0,266.4 L272.0,266.5 L271.0,266.7 L270.0,266.9 L269.0,267.0 L268.0,267.2 L267.0,267.4 L266.0,267.6 L265.0,267.8 L264.0,268.0 L263.0,268.2 L262.0,268.4 L261.0,268.6 L260.0,268.9 L259.0,269.1 L258.0,269.4 L257.0,269.6 L256.0,269.9 L255.0,270.1 L254.0,270.4 L253.0,270.6 L252.0,270.9 L251.0,271.2 L250.0,271.5 L249.0,271.8 L248.0,272.1 L247.0,272.4 L246.0,272.7 L245.0,272.9 L244.0,273.2 L243.0,273.4 L242.0,273.6 L241.0,273.8 L240.0,274.0 L239.0,274.2 L238.0,274.4 L237.0,274.6 L236.0,274.7 L235.0,274.9 L234.0,275.0 L233.0,275.1 L232.0,275.2 L231.0,275.3 L230.0,275.3 L229.0,275.3 L228.0,275.3 L227.0,275.3 L226.0,275.3 L225.0,275.3 L224.0,275.3 L223.0,275.2 L222.0,275.2 L221.0,275.2 L220.0,275.2 L219.0,275.2 L218.0,275.1 L217.0,275.0 L216.0,274.9 L215.0,274.8 L214.0,274.7 L213.0,274.5 L212.0,274.2 L211.0,273.9 L210.0,273.5 L209.0,273.1 L208.0,272.7 L207.0,272.2 L206.0,271.7 L205.0,271.2 Z" fill="#b9d4d9" stroke="none"/>
<g fill="none" stroke="#808080" stroke-width="6.944" stroke-linejoin="round">
<path d="M205.0,270.4 L205.8,270.8 L206.5,271.2 L207.2,271.5 L208.0,271.9 L208.8,272.2 L209.5,272.5 L210.2,272.8 L211.0,273.1 L211.8,273.3 L212.5,273.6 L213.2,273.8 L214.0,273.9 L214.8,274.0 L215.5,274.1 L216.2,274.2 L217.0,274.2 L217.8,274.3 L218.5,274.3 L219.2,274.4 L220.0,274.4 L220.8,274.4 L221.5,274.4 L222.2,274.4 L223.0,274.4 L223.8,274.5 L224.5,274.5 L225.2,274.5 L226.0,274.5 L226.8,274.5 L227.5,274.5 L228.2,274.5 L229.0,274.5 L229.8,274.5 L229.9,274.5"/>
<path d="M241.1,272.9 L241.8,272.8 L242.5,272.7 L243.2,272.5 L244.0,272.4 L244.8,272.2 L245.5,272.0 L246.2,271.8 L247.0,271.6 L247.8,271.4 L248.5,271.1 L249.2,270.9 L250.0,270.7 L250.8,270.5 L251.5,270.3 L252.2,270.0 L253.0,269.8 L253.8,269.6 L254.5,269.4 L255.2,269.2 L256.0,269.1 L256.8,268.9 L257.5,268.7 L258.2,268.5 L259.0,268.3 L259.8,268.1 L260.5,268.0 L261.2,267.8 L262.0,267.6 L262.8,267.4 L263.5,267.3 L264.2,267.1 L265.0,267.0 L265.8,266.8 L266.1,266.7"/>
<path d="M276.7,265.0 L277.2,265.0 L278.0,264.9 L278.8,264.8 L279.5,264.7 L280.2,264.7 L281.0,264.6 L281.8,264.6 L282.5,264.5 L283.2,264.4 L284.0,264.4 L284.8,264.3 L285.5,264.3 L286.2,264.2 L287.0,264.2 L287.8,264.1 L288.5,264.1 L289.2,264.1 L290.0,264.1 L290.8,264.1 L291.5,264.1 L292.2,264.2 L293.0,264.2 L293.8,264.3 L294.5,264.3 L295.2,264.4 L296.0,264.5 L296.8,264.6 L297.5,264.7 L298.2,264.8 L299.0,264.9 L299.8,265.0 L300.5,265.1 L301.2,265.2 L302.0,265.3 L302.3,265.4"/>
<path d="M312.9,268.3 L313.5,268.5 L314.2,268.8 L315.0,269.1 L315.8,269.4 L316.5,269.8 L317.2,270.1 L318.0,270.4 L318.8,270.8 L319.5,271.2 L320.2,271.5 L321.0,271.9 L321.8,272.3 L322.5,272.6 L323.2,273.0 L324.0,273.3 L324.8,273.7 L325.5,274.1 L326.2,274.5 L327.0,274.9 L327.8,275.2 L328.5,275.6 L329.2,276.0 L330.0,276.4 L330.8,276.8 L331.5,277.2 L332.2,277.6 L333.0,278.0 L333.8,278.3 L334.5,278.7 L335.2,279.0 L336.0,279.3 L336.0,279.3"/>
<path d="M346.6,283.0 L347.2,283.1 L348.0,283.2 L348.8,283.2 L349.5,283.3 L350.2,283.4 L351.0,283.4 L351.8,283.5 L352.5,283.5 L353.2,283.6 L354.0,283.6 L354.8,283.6 L355.5,283.6 L356.2,283.7 L357.0,283.7 L357.8,283.7 L358.5,283.7 L359.2,283.7 L360.0,283.7 L360.8,283.6 L361.5,283.6 L362.2,283.5 L363.0,283.4 L363.8,283.3 L364.5,283.2 L365.2,283.0 L366.0,282.9 L366.8,282.7 L367.5,282.6 L368.2,282.4 L369.0,282.3 L369.8,282.1 L370.5,281.9 L371.2,281.7 L372.0,281.5 L372.1,281.5"/>
<path d="M382.1,276.7 L382.8,276.3 L383.5,275.8 L384.2,275.3 L385.0,274.9 L385.8,274.4 L386.5,273.9 L387.2,273.4 L388.0,273.0 L388.8,272.5 L389.5,272.1 L390.2,271.7 L391.0,271.3 L391.8,270.9 L392.5,270.6 L393.2,270.3 L394.0,270.0 L394.8,269.7 L395.5,269.4 L396.2,269.1 L397.0,268.8 L397.8,268.5 L398.5,268.2 L399.2,267.9 L400.0,267.7 L400.8,267.5 L401.5,267.2 L402.2,267.0 L403.0,266.9 L403.8,266.7 L404.5,266.6 L405.2,266.5 L405.4,266.4"/>
<path d="M416.2,266.1 L416.8,266.1 L417.5,266.2 L418.2,266.3 L419.0,266.4 L419.8,266.6 L420.5,266.7 L421.2,266.8 L422.0,266.9 L422.8,267.1 L423.5,267.3 L424.2,267.5 L425.0,267.7 L425.8,267.9 L426.5,268.1 L427.2,268.4 L428.0,268.6 L428.8,268.9 L429.5,269.1 L430.2,269.4 L431.0,269.7 L431.8,269.9 L432.5,270.2 L433.2,270.5 L434.0,270.9 L434.8,271.2 L435.5,271.5 L436.2,271.9 L437.0,272.2 L437.8,272.6 L438.5,273.0 L439.2,273.4 L440.0,273.8 L440.5,274.0"/>
<path d="M449.1,279.5 L449.8,279.9 L450.5,280.4 L451.2,280.8 L452.0,281.2 L452.8,281.7 L453.5,282.1 L454.2,282.5 L455.0,282.9 L455.8,283.3 L456.5,283.7 L457.2,284.1 L458.0,284.6 L458.8,285.0 L459.5,285.4 L460.2,285.8 L461.0,286.1 L461.8,286.5 L462.5,287.0 L463.2,287.4 L464.0,287.8 L464.8,288.2 L465.5,288.6 L466.2,289.1 L467.0,289.5 L467.8,289.8 L468.5,290.2 L469.2,290.5 L470.0,290.8 L470.8,291.1 L471.5,291.3 L471.8,291.4"/>
<path d="M483.5,293.1 L484.0,293.1 L484.8,293.1 L485.5,293.1 L486.2,293.1 L487.0,293.1 L487.8,293.1 L488.5,293.0 L489.2,293.0 L490.0,292.8 L490.8,292.7 L491.5,292.5 L492.2,292.3 L493.0,292.1 L493.8,291.8 L494.5,291.6 L495.2,291.3 L496.0,291.0 L496.8,290.8 L497.5,290.5 L498.2,290.3 L499.0,290.0 L499.8,289.6 L500.5,289.3 L501.2,288.9 L502.0,288.5 L502.8,288.1 L503.5,287.7 L504.2,287.3 L505.0,286.8 L505.8,286.4 L506.5,285.9 L507.2,285.3 L507.4,285.2"/>
<path d="M514.7,278.6 L515.2,278.1 L516.0,277.5 L516.8,276.9 L517.5,276.3 L518.2,275.8 L519.0,275.2 L519.8,274.6 L520.5,274.1 L521.2,273.5 L522.0,273.0 L522.8,272.5 L523.5,272.0 L524.2,271.5 L525.0,271.1 L525.8,270.7 L526.5,270.4 L527.2,270.0 L528.0,269.6 L528.8,269.3 L529.5,268.9 L530.2,268.6 L531.0,268.2 L531.8,267.9 L532.5,267.6 L533.2,267.4 L534.0,267.1 L534.8,266.9 L535.5,266.7 L536.2,266.6 L537.0,266.5 L537.0,266.5"/>
<path d="M549.4,267.0 L550.0,267.2 L550.8,267.3 L551.5,267.5 L552.2,267.7 L553.0,268.0 L553.8,268.2 L554.5,268.5 L555.2,268.8 L556.0,269.0 L556.8,269.4 L557.5,269.7 L558.2,270.0 L559.0,270.3 L559.8,270.7 L560.5,271.0 L561.2,271.4 L562.0,271.7 L562.8,272.1 L563.5,272.5 L564.2,272.9 L565.0,273.4 L565.8,273.9 L566.5,274.3 L567.2,274.8 L568.0,275.3 L568.8,275.9 L569.5,276.4 L570.2,277.0 L571.0,277.6 L571.8,278.2 L572.1,278.5"/>
<path d="M579.5,286.6 L580.0,287.0 L580.8,287.6 L581.5,288.1 L582.2,288.6 L583.0,289.1 L583.8,289.6 L584.5,290.0 L585.2,290.5 L586.0,290.9 L586.8,291.3 L587.5,291.7 L588.2,292.1 L589.0,292.6 L589.8,293.0 L590.5,293.4 L591.2,293.8 L592.0,294.2 L592.8,294.7 L593.5,295.1 L594.2,295.5 L595.0,295.9 L595.8,296.3 L596.5,296.7 L597.2,297.1 L598.0,297.4 L598.8,297.8 L599.5,298.1 L600.2,298.4 L601.0,298.6 L601.8,298.9 L601.9,298.9"/>
<path d="M612.4,301.2 L613.0,301.4 L613.8,301.5 L614.5,301.7 L615.2,302.0 L616.0,302.2 L616.8,302.4 L617.5,302.6 L618.2,302.8 L619.0,303.0 L619.8,303.2 L620.5,303.5 L621.2,303.7 L622.0,303.9 L622.8,304.1 L623.5,304.3 L624.2,304.4 L625.0,304.6 L625.8,304.9 L626.5,305.1 L627.2,305.3 L628.0,305.5 L628.8,305.7 L629.5,305.9 L630.2,306.0 L631.0,306.1 L631.8,306.2 L632.5,306.2 L633.2,306.2 L634.0,306.1 L634.8,306.0 L635.5,305.9 L636.2,305.8 L637.0,305.7 L637.4,305.6"/>
<path d="M646.5,299.5 L647.2,299.1 L648.0,298.7 L648.8,298.3 L649.5,297.9 L650.2,297.5 L651.0,297.2 L651.8,296.8 L652.5,296.5 L653.2,296.2 L654.0,295.9 L654.8,295.6 L655.5,295.3 L656.2,295.0 L657.0,294.7 L657.8,294.4 L658.5,294.1 L659.2,293.8 L660.0,293.6 L660.8,293.3 L661.5,293.1 L662.2,292.8 L663.0,292.6 L663.8,292.4 L664.5,292.3 L665.2,292.1 L666.0,291.9 L666.8,291.8 L667.5,291.6 L668.2,291.5 L669.0,291.4 L669.8,291.3 L670.5,291.2 L670.6,291.2"/>
<path d="M681.1,293.6 L681.8,294.0 L682.5,294.4 L683.2,294.8 L684.0,295.2 L684.8,295.6 L685.5,295.9 L686.2,296.3 L687.0,296.7 L687.8,297.1 L688.5,297.4 L689.2,297.8 L690.0,298.2 L690.8,298.5 L691.5,298.9 L692.2,299.3 L693.0,299.6 L693.8,300.0 L694.5,300.3 L695.2,300.6 L696.0,300.9 L696.8,301.2 L697.5,301.5 L698.2,301.9 L699.0,302.2 L699.8,302.6 L700.5,303.0 L701.2,303.5 L702.0,304.0 L702.8,304.6 L703.5,305.3 L703.7,305.5"/>
<path d="M710.2,315.4 L710.8,316.2 L711.5,317.1 L712.2,318.1 L713.0,318.9 L713.8,319.8 L714.5,320.6 L715.2,321.4 L716.0,322.2 L716.8,323.0 L717.5,323.7 L718.2,324.3 L719.0,324.8 L719.8,325.4 L720.5,325.8 L721.2,326.2 L722.0,326.3 L722.8,326.2 L723.5,326.0 L724.2,325.8 L725.0,325.4 L725.8,325.1 L726.5,324.8 L727.2,324.3 L728.0,323.7 L728.8,323.1 L729.5,322.5 L730.2,322.0"/>
<path d="M739.0,322.9 L739.5,323.2 L740.2,323.7 L741.0,324.2 L741.8,325.0 L742.5,325.8 L743.2,326.7 L744.0,327.6 L744.8,328.3 L745.5,329.0 L746.2,329.4 L747.0,329.8 L747.8,330.2 L748.5,330.6 L749.2,330.8 L750.0,331.0 L750.8,331.0 L751.5,330.8 L752.2,330.4 L753.0,329.8 L753.8,329.3 L754.5,328.7 L755.2,328.1 L756.0,327.5 L756.8,326.8 L757.5,326.1 L758.2,325.5 L759.0,324.9 L759.6,324.6"/>
<path d="M771.8,323.6 L772.5,323.5 L773.2,323.4 L774.0,323.3 L774.8,323.1 L775.5,323.0 L776.2,322.8 L777.0,322.6 L777.8,322.3 L778.5,322.1 L779.2,321.8 L780.0,321.6 L780.8,321.3 L781.5,320.9 L782.2,320.5 L783.0,320.1 L783.8,319.6 L784.5,319.2 L785.2,318.9 L786.0,318.5 L786.8,318.2 L787.5,317.9 L788.2,317.8 L789.0,317.8 L789.8,318.0 L790.5,318.2 L791.2,318.5 L792.0,319.2 L792.8,320.2 L793.5,321.5 L794.0,322.6"/>
<path d="M796.5,332.4 L797.0,334.7 L797.8,338.2 L798.5,341.6 L799.2,345.2 L800.0,348.4 L800.8,351.8 L801.5,357.5 L801.5,357.5"/>
<path d="M802.0,367.2 L802.5,375.4 L803.2,384.5 L804.0,390.8 L804.3,392.8"/>
<path d="M806.2,404.8 L806.8,408.3 L807.5,412.5 L808.2,416.9 L809.0,420.8 L809.8,421.1 L810.5,418.2 L811.2,414.8 L811.7,413.2"/>
<path d="M813.8,400.7 L814.5,392.4 L815.2,383.3 L815.9,375.1"/>
<path d="M816.8,363.8 L817.5,354.9 L818.2,344.2 L818.7,338.2"/>
<path d="M819.5,326.2 L820.0,318.7 L820.8,307.9 L821.3,300.6"/>
<path d="M822.0,290.3 L822.8,281.0 L823.5,272.5 L824.2,264.7"/>
<path d="M825.5,253.2 L826.0,248.8 L826.8,243.2 L827.5,238.0 L828.2,233.0 L829.0,229.2 L829.3,227.8"/>
<path d="M839.4,227.5 L840.0,226.6 L840.8,225.2 L841.5,223.7 L842.2,222.2 L843.0,220.8 L843.8,219.3 L844.5,217.7 L845.2,216.2 L846.0,214.8 L846.8,213.5 L847.5,212.2 L848.2,211.0 L849.0,209.9 L849.8,209.0 L850.5,208.2 L851.2,207.4 L852.0,206.7 L852.8,206.2 L853.0,206.0"/>
<path d="M861.3,203.3 L862.0,203.2 L862.8,203.1 L863.5,203.1 L864.2,203.1 L865.0,203.2 L865.8,203.3 L866.5,203.4 L867.2,203.6 L868.0,203.8 L868.8,204.0 L869.5,204.3 L870.2,204.6 L871.0,205.0 L871.8,205.4 L872.5,205.8 L873.2,206.3 L874.0,206.8 L874.8,207.4 L875.5,208.1 L876.2,208.7 L877.0,209.5 L877.8,210.3 L878.5,211.2 L879.2,212.2 L880.0,213.2 L880.8,214.4 L881.5,215.7 L881.7,216.1"/>
<path d="M886.5,225.8 L887.2,227.6 L888.0,229.3 L888.8,230.2 L889.5,230.8 L890.2,231.2 L891.0,231.0 L891.8,230.4 L892.5,229.6 L893.2,229.0 L894.0,228.4 L894.8,227.9 L895.5,227.7 L896.2,227.7 L897.0,227.8 L897.8,227.9 L898.5,228.8 L899.2,230.4 L900.0,234.1 L900.5,237.5"/>
<path d="M902.0,248.3 L902.8,255.8 L903.5,265.2 L904.2,273.5 L904.3,274.3"/>
<path d="M905.5,285.6 L906.2,294.1 L907.0,303.8 L907.6,311.6"/>
<path d="M908.5,322.9 L909.2,332.0 L910.0,343.4 L910.3,349.0"/>
<path d="M910.9,360.3 L911.0,361.4 L911.2,366.0 L911.5,371.0 L911.8,375.9 L912.0,380.7 L912.2,385.1 L912.3,386.5"/>
<path d="M913.3,397.7 L914.0,403.5 L914.8,408.6 L915.5,412.4 L916.2,415.4 L917.0,418.0 L917.8,420.9 L918.5,422.5 L918.8,421.9"/>
<path d="M920.5,410.7 L921.2,404.7 L922.0,397.6 L922.8,390.5 L923.4,384.7"/>
<path d="M924.6,373.4 L925.2,367.6 L926.0,360.7 L926.8,354.0 L927.5,348.2 L927.6,347.4"/>
<path d="M929.4,336.3 L930.0,333.5 L930.8,330.4 L931.5,327.7 L932.2,325.6 L933.0,323.8 L933.8,322.3 L934.5,320.9 L935.2,319.8 L936.0,319.0 L936.8,318.6 L937.5,318.2 L938.2,317.8 L939.0,317.5 L939.8,317.3 L940.5,317.1 L941.2,317.1 L942.0,317.3 L942.8,317.6 L942.9,317.7"/>
<path d="M952.4,323.7 L953.0,323.9 L953.8,323.9 L954.5,323.9 L955.2,323.8 L956.0,323.6 L956.8,323.4 L957.5,323.2 L958.2,323.0 L959.0,322.8 L959.8,322.6 L960.5,322.4 L961.2,322.2 L962.0,322.0 L962.8,321.9 L963.5,321.8 L964.2,321.8 L965.0,322.0 L965.8,322.3 L966.5,322.8 L967.2,323.4 L968.0,324.0 L968.8,324.6 L969.5,325.2 L970.2,325.6 L971.0,326.1 L971.8,326.6 L972.5,327.0 L973.2,327.5 L974.0,327.9 L974.8,328.3 L975.5,328.6 L976.2,328.7 L976.3,328.7"/>
<path d="M983.9,324.0 L984.5,323.4 L985.2,322.7 L986.0,322.1 L986.8,321.4 L987.5,320.8 L988.2,320.3 L989.0,319.9 L989.8,319.6 L990.5,319.3 L991.2,319.0 L992.0,318.7 L992.8,318.5 L993.5,318.3 L994.2,318.2 L995.0,318.1 L995.8,318.1 L996.5,318.3 L997.2,318.5 L998.0,318.9 L998.8,319.2 L999.5,319.6 L1000.2,320.0 L1001.0,320.4 L1001.8,320.8 L1002.5,321.2 L1003.2,321.7 L1004.0,322.1 L1004.8,322.6 L1005.5,323.1 L1006.2,323.4 L1006.5,323.5"/>
<path d="M1014.6,317.9 L1015.2,316.9 L1016.0,315.6 L1016.8,314.2 L1017.5,312.8 L1018.2,311.5 L1019.0,310.2 L1019.8,309.1 L1020.5,308.2 L1021.2,307.4 L1022.0,306.7 L1022.8,306.0 L1023.5,305.3 L1024.2,304.7 L1025.0,304.1 L1025.8,303.5 L1026.5,303.0 L1027.2,302.6 L1028.0,302.2 L1028.8,301.8 L1029.5,301.4 L1030.2,301.1 L1031.0,300.7 L1031.8,300.4 L1032.2,300.2"/>
<path d="M1042.7,293.6 L1043.2,293.3 L1044.0,293.0 L1044.8,292.7 L1045.5,292.3 L1046.2,292.0 L1047.0,291.7 L1047.8,291.4 L1048.5,291.1 L1049.2,290.9 L1050.0,290.7 L1050.8,290.6 L1051.5,290.6 L1052.2,290.6 L1053.0,290.6 L1053.8,290.6 L1054.5,290.6 L1055.2,290.6 L1056.0,290.6 L1056.8,290.6 L1057.5,290.6 L1058.2,290.6 L1059.0,290.6 L1059.8,290.6 L1060.5,290.7 L1061.2,290.8 L1062.0,290.9 L1062.8,291.1 L1063.5,291.3 L1064.2,291.5 L1065.0,291.7 L1065.8,291.9 L1066.5,292.2 L1067.2,292.4 L1067.5,292.5"/>
<path d="M1076.8,297.1 L1077.5,297.5 L1078.2,297.9 L1079.0,298.4 L1079.8,298.9 L1080.5,299.4 L1081.2,299.9 L1082.0,300.3 L1082.8,300.8 L1083.5,301.2 L1084.2,301.6 L1085.0,302.0 L1085.8,302.3 L1086.5,302.6 L1087.2,302.8 L1088.0,303.1 L1088.8,303.3 L1089.5,303.6 L1090.2,303.8 L1091.0,304.0 L1091.8,304.1 L1092.5,304.2 L1093.2,304.3 L1094.0,304.3 L1094.8,304.3 L1095.5,304.3 L1096.2,304.2 L1097.0,304.1 L1097.8,304.1 L1098.5,304.0 L1099.2,303.9 L1100.0,303.8 L1100.7,303.8"/>
<path d="M1112.1,301.6 L1112.8,301.4 L1113.5,301.2 L1114.2,301.1 L1115.0,300.9 L1115.8,300.7 L1116.5,300.6 L1117.2,300.4 L1118.0,300.2 L1118.8,300.1 L1119.5,299.9 L1120.2,299.7 L1121.0,299.5 L1121.8,299.3 L1122.5,299.1 L1123.2,298.9 L1124.0,298.7 L1124.8,298.5 L1125.5,298.3 L1126.2,298.1 L1127.0,297.9 L1127.8,297.6 L1128.5,297.4 L1129.2,297.2 L1130.0,296.9 L1130.8,296.6 L1131.5,296.4 L1132.2,296.1 L1133.0,295.8 L1133.8,295.5 L1134.5,295.1 L1135.2,294.8 L1136.0,294.4 L1136.6,294.1"/>
<path d="M1144.5,287.2 L1145.0,286.8 L1145.8,286.2 L1146.5,285.6 L1147.2,285.1 L1148.0,284.5 L1148.8,283.9 L1149.5,283.4 L1150.2,282.8 L1151.0,282.3 L1151.8,281.7 L1152.5,281.2 L1153.2,280.6 L1154.0,280.1 L1154.8,279.5 L1155.5,279.0 L1156.2,278.4 L1157.0,277.9 L1157.8,277.3 L1158.5,276.8 L1159.2,276.2 L1160.0,275.7 L1160.8,275.2 L1161.5,274.6 L1162.2,274.1 L1163.0,273.5 L1163.8,273.0 L1164.5,272.4 L1165.1,271.9"/>
<path d="M1175.4,266.2 L1176.0,266.1 L1176.8,266.0 L1177.5,265.9 L1178.2,265.8 L1179.0,265.8 L1179.8,265.7 L1180.5,265.7 L1181.2,265.7 L1182.0,265.6 L1182.8,265.6 L1183.5,265.6 L1184.2,265.6 L1185.0,265.7 L1185.8,265.8 L1186.5,265.9 L1187.2,266.1 L1188.0,266.4 L1188.8,266.6 L1189.5,266.9 L1190.2,267.1 L1191.0,267.4 L1191.8,267.6 L1192.5,267.9 L1193.2,268.1 L1194.0,268.4 L1194.8,268.7 L1195.5,269.0 L1196.2,269.3 L1197.0,269.7 L1197.8,270.0 L1198.5,270.4 L1199.2,270.8 L1200.0,271.2 L1200.0,271.2"/>
<path d="M1207.9,276.8 L1208.5,277.2 L1209.2,277.7 L1210.0,278.2 L1210.8,278.7 L1211.5,279.2 L1212.2,279.6 L1213.0,280.1 L1213.8,280.5 L1214.5,281.0 L1215.2,281.5 L1216.0,281.9 L1216.8,282.4 L1217.5,282.8 L1218.2,283.3 L1219.0,283.8 L1219.8,284.2 L1220.5,284.7 L1221.2,285.2 L1222.0,285.7 L1222.8,286.3 L1223.5,286.8 L1224.2,287.3 L1225.0,287.8 L1225.8,288.2 L1226.5,288.7 L1227.2,289.1 L1228.0,289.5 L1228.8,289.8 L1229.5,290.2 L1229.7,290.3"/>
<path d="M1241.2,292.9 L1241.8,293.0 L1242.5,293.0 L1243.2,293.1 L1244.0,293.1 L1244.8,293.1 L1245.5,293.1 L1246.2,293.1 L1247.0,293.0 L1247.8,293.0 L1248.5,292.9 L1249.2,292.8 L1250.0,292.8 L1250.8,292.7 L1251.5,292.6 L1252.2,292.4 L1253.0,292.3 L1253.8,292.2 L1254.5,292.1 L1255.2,291.9 L1256.0,291.7 L1256.8,291.5 L1257.5,291.3 L1258.2,291.1 L1259.0,290.8 L1259.8,290.5 L1260.5,290.2 L1261.2,289.9 L1262.0,289.5 L1262.8,289.2 L1263.5,288.8 L1264.2,288.5 L1265.0,288.0 L1265.8,287.5 L1265.9,287.4"/>
<path d="M1273.7,280.7 L1274.2,280.3 L1275.0,279.8 L1275.8,279.4 L1276.5,278.9 L1277.2,278.5 L1278.0,278.1 L1278.8,277.7 L1279.5,277.3 L1280.2,276.9 L1281.0,276.5 L1281.8,276.1 L1282.5,275.7 L1283.2,275.3 L1284.0,274.9 L1284.8,274.5 L1285.5,274.1 L1286.2,273.7 L1287.0,273.2 L1287.8,272.8 L1288.5,272.4 L1289.2,272.0 L1290.0,271.6 L1290.8,271.2 L1291.5,270.8 L1292.2,270.4 L1293.0,270.0 L1293.8,269.7 L1294.5,269.4 L1295.2,269.1 L1296.0,268.8 L1296.4,268.7"/>
<path d="M1307.8,266.6 L1308.5,266.5 L1309.2,266.5 L1310.0,266.5 L1310.8,266.5 L1311.5,266.5 L1312.2,266.5 L1313.0,266.6 L1313.8,266.7 L1314.5,266.8 L1315.2,267.0 L1316.0,267.2 L1316.8,267.3 L1317.5,267.5 L1318.2,267.7 L1319.0,267.9 L1319.8,268.1 L1320.5,268.3 L1321.2,268.5 L1322.0,268.7 L1322.8,268.9 L1323.5,269.1 L1324.2,269.3 L1325.0,269.5 L1325.8,269.7 L1326.5,269.9 L1327.2,270.1 L1328.0,270.3 L1328.8,270.5 L1329.5,270.8 L1330.2,271.0 L1331.0,271.3 L1331.8,271.6 L1332.5,271.8 L1332.7,271.9"/>
<path d="M1341.8,276.5 L1342.5,276.8 L1343.2,277.2 L1344.0,277.5 L1344.8,277.8 L1345.5,278.2 L1346.2,278.5 L1347.0,278.8 L1347.8,279.1 L1348.5,279.4 L1349.2,279.7 L1350.0,280.0 L1350.8,280.3 L1351.5,280.6 L1352.2,280.8 L1353.0,281.0 L1353.8,281.2 L1354.5,281.4 L1355.2,281.7 L1356.0,281.9 L1356.8,282.1 L1357.5,282.3 L1358.2,282.4 L1359.0,282.6 L1359.8,282.8 L1360.5,282.9 L1361.2,283.1 L1362.0,283.2 L1362.8,283.3 L1363.5,283.4 L1364.2,283.4 L1365.0,283.5 L1365.8,283.5 L1366.4,283.5"/>
<path d="M1377.9,282.6 L1378.5,282.5 L1379.2,282.3 L1380.0,282.2 L1380.8,282.0 L1381.5,281.7 L1382.2,281.5 L1383.0,281.3 L1383.8,281.0 L1384.5,280.8 L1385.2,280.5 L1386.0,280.3 L1386.8,280.0 L1387.5,279.8 L1388.2,279.5 L1389.0,279.3 L1389.8,279.1 L1390.5,278.9 L1391.2,278.6 L1392.0,278.4 L1392.8,278.2 L1393.5,278.0 L1394.2,277.8 L1395.0,277.6 L1395.8,277.4 L1396.5,277.2 L1397.2,277.0 L1398.0,276.7 L1398.8,276.5 L1399.5,276.3 L1400.2,276.0 L1401.0,275.7 L1401.8,275.5 L1402.5,275.2 L1402.5,275.2"/>
<path d="M1412.2,270.2 L1412.8,270.0 L1413.5,269.6 L1414.2,269.3 L1415.0,269.0 L1415.8,268.7 L1416.5,268.3 L1417.2,268.0 L1418.0,267.7 L1418.8,267.4 L1419.5,267.1 L1420.2,266.8 L1421.0,266.5 L1421.8,266.3 L1422.5,266.0 L1423.2,265.8 L1424.0,265.6 L1424.8,265.4 L1425.5,265.2 L1426.2,265.0 L1427.0,264.8 L1427.8,264.6 L1428.5,264.4 L1429.2,264.2 L1430.0,264.1 L1430.8,263.9 L1431.5,263.8 L1432.2,263.7 L1433.0,263.6 L1433.8,263.5 L1434.5,263.5 L1435.2,263.4 L1436.0,263.3 L1436.8,263.3 L1436.8,263.3"/>
<path d="M1447.6,263.8 L1448.2,263.9 L1449.0,264.0 L1449.8,264.2 L1450.5,264.3 L1451.2,264.5 L1452.0,264.7 L1452.8,264.8 L1453.5,265.0 L1454.2,265.2 L1455.0,265.4 L1455.8,265.6 L1456.5,265.9 L1457.2,266.1 L1458.0,266.3 L1458.8,266.5 L1459.5,266.7 L1460.2,266.8 L1461.0,267.0 L1461.8,267.2 L1462.5,267.4 L1463.2,267.5 L1464.0,267.7 L1464.8,267.9 L1465.5,268.1 L1466.2,268.2 L1467.0,268.4 L1467.8,268.6 L1468.5,268.8 L1469.2,268.9 L1470.0,269.1 L1470.8,269.3 L1471.5,269.5 L1472.2,269.6 L1472.5,269.7"/>
<path d="M1483.4,272.4 L1484.0,272.5 L1484.8,272.7 L1485.5,272.8 L1486.2,272.9 L1487.0,273.0 L1487.8,273.1 L1488.5,273.2 L1489.2,273.3 L1490.0,273.4 L1490.8,273.5 L1491.5,273.6 L1492.2,273.7 L1493.0,273.8 L1493.8,273.8 L1494.5,273.9 L1495.2,273.9 L1496.0,274.0 L1496.8,274.0 L1497.5,274.0 L1498.2,274.1 L1499.0,274.1 L1499.8,274.1 L1500.5,274.2 L1501.2,274.2 L1502.0,274.2 L1502.8,274.2 L1503.5,274.2 L1504.2,274.3 L1505.0,274.3 L1505.8,274.3 L1506.5,274.3 L1507.2,274.3 L1508.0,274.3 L1508.8,274.3 L1509.0,274.3"/>
<path d="M1519.3,272.6 L1520.0,272.5 L1520.8,272.4 L1521.5,272.2 L1522.2,272.0 L1523.0,271.9 L1523.8,271.7 L1524.3,271.6"/>
</g>
<path d="M863.9,634.1 L863.9,9" fill="none" stroke="#808080" stroke-width="2.08" stroke-dasharray="7.71 3.33"/>
<path d="M205.0,298.3 L205.7,298.3 L206.3,298.3 L207.0,298.0 L207.6,297.8 L208.3,297.9 L209.0,298.2 L209.6,298.4 L210.3,298.5 L210.9,298.6 L211.6,298.9 L212.3,299.5 L212.9,300.2 L213.6,300.6 L214.2,301.1 L214.9,301.8 L215.6,302.7 L216.2,303.4 L216.9,303.8 L217.5,304.4 L218.2,305.2 L218.9,306.0 L219.5,306.8 L220.2,307.4 L220.8,308.1 L221.5,308.8 L222.2,309.5 L222.8,309.9 L223.5,310.3 L224.1,310.8 L224.8,311.0 L225.5,310.5 L226.1,310.3 L226.8,310.1 L227.4,310.1 L228.1,309.9 L228.8,309.5 L229.4,309.2 L230.1,308.5 L230.7,307.9 L231.4,307.4 L232.1,307.0 L232.7,306.9 L233.4,306.7 L234.0,306.7 L234.7,306.4 L235.4,305.7 L236.0,305.0 L236.7,304.8 L237.3,304.6 L238.0,304.9 L238.7,305.4 L239.3,305.6 L240.0,305.1 L240.6,304.8 L241.3,304.8 L242.0,305.0 L242.6,305.2 L243.3,305.5 L243.9,306.1 L244.6,306.4 L245.3,306.7 L245.9,307.1 L246.6,307.8 L247.2,308.3 L247.9,308.7 L248.6,308.9 L249.2,309.3 L249.9,309.6 L250.5,309.6 L251.2,309.8 L251.9,310.6 L252.5,311.0 L253.2,311.2 L253.8,311.7 L254.5,312.0 L255.2,312.2 L255.8,312.2 L256.5,311.9 L257.1,311.8 L257.8,312.1 L258.5,312.1 L259.1,312.5 L259.8,312.5 L260.4,312.0 L261.1,311.6 L261.8,311.3 L262.4,311.2 L263.1,310.9 L263.7,310.5 L264.4,310.3 L265.1,310.1 L265.7,309.3 L266.4,308.4 L267.0,307.5 L267.7,306.3 L268.4,305.1 L269.0,303.9 L269.7,302.8 L270.3,301.6 L271.0,300.6 L271.7,299.6 L272.3,298.9 L273.0,298.5 L273.6,298.3 L274.3,298.1 L275.0,298.1 L275.6,298.2 L276.3,298.6 L276.9,298.2 L277.6,297.1 L278.3,296.4 L278.9,296.5 L279.6,297.0 L280.2,297.5 L280.9,297.6 L281.6,297.4 L282.2,297.6 L282.9,297.7 L283.5,297.7 L284.2,297.5 L284.9,297.9 L285.5,298.3 L286.2,298.7 L286.8,297.8 L287.5,297.1 L288.2,297.0 L288.8,297.8 L289.5,298.2 L290.1,298.1 L290.8,297.9 L291.5,297.3 L292.1,297.1 L292.8,297.0 L293.4,297.2 L294.1,297.6 L294.8,297.3 L295.4,296.6 L296.1,296.1 L296.7,296.0 L297.4,295.6 L298.1,295.1 L298.7,294.5 L299.4,294.1 L300.0,293.7 L300.7,293.7 L301.4,294.1 L302.0,294.6 L302.7,295.1 L303.3,295.4 L304.0,295.5 L304.7,295.4 L305.3,295.5 L306.0,295.6 L306.6,295.5 L307.3,296.1 L308.0,296.5 L308.6,296.1 L309.3,295.3 L309.9,295.3 L310.6,295.8 L311.3,295.9 L311.9,296.0 L312.6,296.2 L313.2,296.6 L313.9,297.5 L314.6,298.0 L315.2,297.7 L315.9,297.5 L316.5,297.8 L317.2,298.3 L317.9,298.8 L318.5,299.2 L319.2,299.7 L319.8,300.3 L320.5,300.7 L321.2,301.0 L321.8,301.3 L322.5,301.1 L323.1,301.2 L323.8,301.4 L324.5,301.9 L325.1,302.1 L325.8,302.3 L326.4,302.1 L327.1,301.6 L327.8,301.7 L328.4,302.3 L329.1,302.8 L329.7,302.8 L330.4,302.8 L331.1,302.8 L331.7,302.4 L332.4,302.0 L333.0,302.4 L333.7,303.2 L334.4,303.2 L335.0,303.7 L335.7,304.5 L336.3,304.7 L337.0,304.1 L337.7,304.2 L338.3,303.8 L339.0,303.4 L339.6,303.2 L340.3,302.7 L341.0,302.6 L341.6,302.8 L342.3,303.1 L342.9,303.5 L343.6,304.4 L344.3,305.3 L344.9,305.6 L345.6,305.3 L346.2,304.7 L346.9,305.1 L347.6,305.2 L348.2,305.2 L348.9,305.3 L349.5,304.9 L350.2,304.5 L350.9,304.1 L351.5,304.4 L352.2,304.9 L352.8,305.2 L353.5,305.3 L354.2,304.8 L354.8,304.7 L355.5,305.0 L356.1,305.4 L356.8,305.7 L357.5,305.8 L358.1,305.9 L358.8,306.0 L359.4,306.4 L360.1,306.7 L360.8,307.2 L361.4,307.7 L362.1,308.4 L362.7,309.1 L363.4,309.8 L364.1,310.6 L364.7,311.0 L365.4,311.0 L366.0,310.6 L366.7,310.4 L367.4,310.4 L368.0,310.8 L368.7,310.8 L369.3,310.7 L370.0,310.7 L370.7,310.8 L371.3,310.9 L372.0,310.9 L372.6,310.8 L373.3,310.2 L374.0,309.9 L374.6,309.9 L375.3,309.7 L375.9,309.7 L376.6,309.6 L377.3,309.4 L377.9,308.9 L378.6,308.4 L379.2,308.4 L379.9,308.4 L380.6,308.2 L381.2,307.8 L381.9,307.6 L382.5,307.7 L383.2,307.8 L383.9,307.0 L384.5,306.0 L385.2,305.5 L385.8,305.4 L386.5,305.3 L387.2,304.8 L387.8,304.2 L388.5,303.8 L389.1,303.3 L389.8,302.9 L390.5,302.4 L391.1,302.1 L391.8,301.6 L392.4,301.1 L393.1,300.7 L393.8,300.7 L394.4,301.2 L395.1,301.1 L395.7,301.4 L396.4,301.9 L397.1,302.6 L397.7,303.2 L398.4,303.8 L399.0,304.3 L399.7,304.4 L400.4,304.4 L401.0,304.8 L401.7,304.9 L402.3,305.2 L403.0,305.5 L403.7,306.0 L404.3,306.3 L405.0,306.6 L405.6,306.5 L406.3,306.6 L407.0,306.7 L407.6,307.1 L408.3,307.4 L408.9,307.6 L409.6,307.2 L410.3,306.7 L410.9,306.1 L411.6,305.5 L412.2,305.1 L412.9,305.0 L413.6,304.9 L414.2,304.7 L414.9,304.8 L415.5,304.9 L416.2,304.5 L416.9,303.9 L417.5,303.8 L418.2,303.6 L418.8,304.1 L419.5,304.2 L420.2,304.6 L420.8,304.8 L421.5,304.3 L422.1,303.2 L422.8,302.4 L423.5,302.3 L424.1,302.6 L424.8,303.2 L425.4,303.2 L426.1,303.2 L426.8,303.0 L427.4,302.6 L428.1,301.8 L428.7,301.1 L429.4,300.1 L430.1,299.5 L430.7,299.1 L431.4,298.7 L432.0,298.4 L432.7,298.0 L433.4,297.4 L434.0,297.1 L434.7,297.2 L435.3,297.2 L436.0,297.6 L436.7,298.1 L437.3,298.1 L438.0,298.2 L438.6,298.9 L439.3,299.8 L440.0,300.9 L440.6,301.5 L441.3,301.7 L441.9,302.1 L442.6,302.5 L443.3,302.9 L443.9,303.1 L444.6,303.5 L445.2,303.6 L445.9,303.8 L446.6,303.6 L447.2,303.5 L447.9,303.8 L448.5,304.0 L449.2,303.6 L449.9,302.9 L450.5,302.8 L451.2,303.2 L451.8,304.3 L452.5,305.4 L453.2,305.6 L453.8,304.9 L454.5,305.0 L455.1,305.3 L455.8,305.0 L456.5,304.5 L457.1,304.2 L457.8,303.6 L458.4,303.0 L459.1,303.2 L459.8,304.4 L460.4,304.4 L461.1,304.2 L461.7,304.4 L462.4,304.9 L463.1,304.8 L463.7,304.8 L464.4,305.4 L465.0,305.9 L465.7,306.3 L466.4,306.8 L467.0,306.9 L467.7,307.2 L468.3,307.6 L469.0,308.1 L469.7,308.4 L470.3,308.7 L471.0,308.4 L471.6,308.1 L472.3,308.4 L473.0,309.2 L473.6,309.4 L474.3,309.3 L474.9,308.9 L475.6,309.0 L476.3,309.4 L476.9,309.7 L477.6,309.0 L478.2,308.8 L478.9,308.6 L479.6,309.0 L480.2,309.2 L480.9,309.8 L481.5,310.1 L482.2,310.5 L482.9,310.4 L483.5,310.4 L484.2,310.8 L484.8,311.6 L485.5,312.2 L486.2,312.1 L486.8,311.9 L487.5,311.6 L488.1,311.6 L488.8,311.8 L489.5,311.9 L490.1,312.0 L490.8,312.5 L491.4,313.1 L492.1,313.6 L492.8,314.3 L493.4,314.8 L494.1,314.9 L494.7,314.8 L495.4,314.7 L496.1,314.5 L496.7,314.5 L497.4,315.0 L498.0,315.4 L498.7,315.1 L499.4,314.5 L500.0,313.7 L500.7,313.1 L501.3,312.7 L502.0,312.2 L502.7,311.6 L503.3,310.9 L504.0,310.7 L504.6,310.4 L505.3,310.4 L506.0,310.5 L506.6,310.8 L507.3,310.5 L507.9,309.3 L508.6,308.8 L509.3,308.9 L509.9,309.3 L510.6,309.3 L511.2,308.8 L511.9,308.6 L512.6,309.1 L513.2,309.7 L513.9,309.5 L514.5,309.2 L515.2,308.7 L515.9,308.4 L516.5,308.0 L517.2,308.1 L517.8,308.4 L518.5,308.4 L519.2,308.5 L519.8,308.4 L520.5,308.1 L521.1,308.2 L521.8,308.4 L522.5,308.5 L523.1,308.1 L523.8,307.6 L524.4,307.7 L525.1,307.9 L525.8,308.3 L526.4,308.4 L527.1,307.9 L527.7,307.4 L528.4,307.1 L529.1,306.9 L529.7,306.8 L530.4,306.6 L531.0,306.3 L531.7,306.0 L532.4,305.8 L533.0,305.3 L533.7,304.9 L534.3,304.6 L535.0,304.7 L535.7,304.5 L536.3,303.9 L537.0,303.4 L537.6,303.2 L538.3,303.0 L539.0,302.5 L539.6,301.8 L540.3,301.0 L540.9,300.4 L541.6,300.1 L542.3,299.9 L542.9,299.3 L543.6,298.9 L544.2,298.7 L544.9,298.7 L545.6,298.3 L546.2,297.9 L546.9,297.3 L547.5,296.7 L548.2,296.4 L548.9,296.1 L549.5,296.1 L550.2,296.0 L550.8,296.1 L551.5,296.0 L552.2,295.5 L552.8,294.6 L553.5,294.4 L554.1,294.6 L554.8,294.6 L555.5,294.5 L556.1,294.8 L556.8,294.8 L557.4,295.4 L558.1,295.7 L558.8,295.3 L559.4,295.4 L560.1,295.9 L560.7,296.3 L561.4,296.8 L562.1,297.3 L562.7,297.8 L563.4,298.2 L564.0,298.5 L564.7,298.7 L565.4,299.0 L566.0,299.0 L566.7,299.5 L567.3,300.2 L568.0,300.9 L568.7,301.2 L569.3,301.3 L570.0,301.2 L570.6,301.0 L571.3,301.1 L572.0,301.7 L572.6,301.9 L573.3,301.6 L573.9,301.1 L574.6,301.3 L575.3,301.5 L575.9,301.1 L576.6,300.5 L577.2,300.4 L577.9,300.4 L578.6,300.6 L579.2,300.4 L579.9,300.1 L580.5,300.2 L581.2,300.6 L581.9,300.8 L582.5,300.9 L583.2,301.2 L583.8,301.6 L584.5,302.2 L585.2,302.8 L585.8,303.6 L586.5,304.0 L587.1,304.3 L587.8,304.7 L588.5,305.2 L589.1,305.4 L589.8,305.7 L590.4,306.2 L591.1,306.5 L591.8,306.7 L592.4,307.1 L593.1,307.1 L593.7,306.8 L594.4,306.9 L595.1,307.3 L595.7,307.8 L596.4,308.3 L597.0,308.6 L597.7,308.9 L598.4,308.7 L599.0,308.6 L599.7,308.8 L600.3,308.9 L601.0,308.9 L601.7,309.3 L602.3,309.3 L603.0,309.1 L603.6,309.2 L604.3,309.5 L605.0,309.6 L605.6,310.1 L606.3,310.2 L606.9,310.0 L607.6,310.2 L608.3,310.2 L608.9,310.2 L609.6,310.1 L610.2,310.4 L610.9,310.9 L611.6,311.2 L612.2,311.7 L612.9,312.1 L613.5,312.3 L614.2,312.8 L614.9,313.3 L615.5,313.5 L616.2,313.5 L616.8,314.0 L617.5,314.6 L618.2,315.4 L618.8,316.5 L619.5,317.7 L620.1,318.9 L620.8,320.1 L621.5,321.4 L622.1,322.9 L622.8,324.5 L623.4,325.8 L624.1,326.9 L624.8,327.9 L625.4,329.0 L626.1,329.9 L626.7,330.8 L627.4,331.6 L628.1,332.6 L628.7,333.5 L629.4,334.4 L630.0,335.0 L630.7,335.7 L631.4,336.3 L632.0,337.1 L632.7,337.6 L633.3,338.1 L634.0,338.6 L634.7,339.2 L635.3,339.9 L636.0,340.6 L636.6,341.2 L637.3,341.5 L638.0,341.6 L638.6,341.7 L639.3,342.1 L639.9,342.7 L640.6,343.3 L641.3,343.6 L641.9,344.0 L642.6,344.5 L643.2,344.9 L643.9,344.2 L644.6,343.6 L645.2,343.5 L645.9,343.4 L646.5,343.0 L647.2,342.6 L647.9,342.0 L648.5,341.3 L649.2,340.9 L649.8,340.8 L650.5,340.4 L651.2,339.9 L651.8,339.4 L652.5,338.9 L653.1,338.3 L653.8,337.8 L654.5,337.3 L655.1,336.9 L655.8,336.3 L656.4,335.8 L657.1,335.1 L657.8,334.4 L658.4,333.9 L659.1,333.2 L659.7,332.6 L660.4,331.9 L661.1,331.4 L661.7,331.0 L662.4,331.0 L663.0,331.0 L663.7,331.4 L664.4,331.8 L665.0,332.1 L665.7,332.0 L666.3,331.6 L667.0,331.4 L667.7,331.9 L668.3,332.5 L669.0,333.0 L669.6,332.6 L670.3,332.2 L671.0,331.7 L671.6,331.4 L672.3,331.1 L672.9,331.0 L673.6,330.5 L674.3,330.1 L674.9,329.5 L675.6,329.1 L676.2,328.7 L676.9,328.2 L677.6,327.6 L678.2,327.0 L678.9,326.7 L679.5,326.4 L680.2,325.9 L680.9,326.3 L681.5,326.9 L682.2,327.7 L682.8,328.4 L683.5,329.0 L684.2,329.6 L684.8,330.1 L685.5,330.5 L686.1,331.0 L686.8,331.6 L687.5,332.0 L688.1,332.5 L688.8,333.1 L689.4,333.7 L690.1,333.9 L690.8,334.1 L691.4,333.7 L692.1,333.3 L692.7,333.8 L693.4,333.9 L694.1,333.3 L694.7,332.6 L695.4,331.6 L696.0,330.7 L696.7,329.9 L697.4,329.2 L698.0,328.7 L698.7,328.4 L699.3,328.8 L700.0,329.3 L700.7,330.0 L701.3,330.6 L702.0,331.2 L702.6,331.7 L703.3,332.5 L704.0,333.2 L704.6,333.6 L705.3,334.0 L705.9,334.7 L706.6,335.4 L707.3,336.1 L707.9,336.7 L708.6,337.1 L709.2,337.3 L709.9,337.2 L710.6,337.2 L711.2,337.4 L711.9,337.9 L712.5,338.2 L713.2,338.4 L713.9,338.3 L714.5,337.9 L715.2,337.3 L715.8,336.5 L716.5,335.7 L717.2,334.8 L717.8,334.0 L718.5,333.0 L719.1,332.1 L719.8,331.3 L720.5,330.6 L721.1,330.0 L721.8,329.2 L722.4,328.3 L723.1,327.4 L723.8,326.6 L724.4,325.9 L725.1,325.4 L725.7,324.7 L726.4,324.3 L727.1,323.9 L727.7,323.3 L728.4,322.4 L729.0,321.8 L729.7,321.6 L730.4,321.3 L731.0,320.7 L731.7,319.9 L732.3,319.2 L733.0,318.5 L733.7,319.3 L734.3,320.1 L735.0,320.6 L735.6,320.7 L736.3,320.9 L737.0,320.9 L737.6,321.5 L738.3,322.3 L738.9,323.0 L739.6,323.5 L740.3,324.3 L740.9,325.2 L741.6,326.1 L742.2,327.1 L742.9,328.1 L743.6,329.2 L744.2,330.4 L744.9,331.4 L745.5,332.5 L746.2,333.8 L746.9,335.1 L747.5,336.2 L748.2,337.1 L748.8,337.9 L749.5,338.5 L750.2,339.1 L750.8,339.3 L751.5,339.6 L752.1,339.7 L752.8,339.7 L753.5,339.2 L754.1,339.1 L754.8,339.9 L755.4,340.3 L756.1,339.9 L756.8,339.5 L757.4,339.8 L758.1,339.8 L758.7,340.0 L759.4,339.9 L760.1,339.9 L760.7,340.2 L761.4,340.5 L762.0,340.4 L762.7,340.2 L763.4,339.8 L764.0,339.8 L764.7,340.3 L765.3,340.9 L766.0,341.6 L766.7,342.6 L767.3,343.7 L768.0,344.9 L768.6,346.1 L769.3,347.0 L770.0,347.9 L770.6,348.6 L771.3,349.3 L771.9,349.9 L772.6,350.7 L773.3,351.5 L773.9,352.3 L774.6,353.2 L775.2,353.9 L775.9,354.3 L776.6,354.6 L777.2,354.7 L777.9,354.6 L778.5,354.7 L779.2,354.6 L779.9,354.1 L780.5,353.4 L781.2,352.5 L781.8,351.7 L782.5,351.1 L783.2,350.6 L783.8,350.0 L784.5,349.3 L785.1,348.5 L785.8,347.6 L786.5,346.7 L787.1,346.1 L787.8,345.6 L788.4,345.0 L789.1,344.4 L789.8,345.7 L790.4,346.4 L791.1,346.9 L791.7,347.2 L792.4,347.7 L793.1,348.5 L793.7,349.7 L794.4,351.6 L795.0,353.9 L795.7,356.3 L796.4,358.7 L797.0,360.8 L797.7,362.9 L798.3,365.3 L799.0,368.5 L799.7,373.9 L800.3,381.0 L801.0,388.5 L801.6,395.4 L802.3,402.2 L803.0,408.9 L803.6,415.3 L804.3,421.3 L804.9,427.3 L805.6,432.7 L806.3,437.2 L806.9,440.4 L807.6,442.9 L808.2,444.6 L808.9,445.9 L809.6,446.5 L810.2,445.7 L810.9,444.3 L811.5,442.6 L812.2,440.2 L812.9,437.1 L813.5,432.9 L814.2,427.7 L814.8,421.5 L815.5,414.6 L816.2,406.0 L816.8,395.9 L817.5,384.3 L818.1,371.0 L818.8,358.8 L819.5,347.1 L820.1,336.1 L820.8,325.7 L821.4,315.9 L822.1,307.2 L822.8,299.8 L823.4,293.3 L824.1,287.5 L824.7,282.5 L825.4,278.2 L826.1,273.6 L826.7,267.8 L827.4,261.3 L828.0,254.8 L828.7,249.3 L829.4,245.0 L830.0,241.9 L830.7,240.7 L831.3,239.8 L832.0,239.3 L832.7,238.8 L833.3,238.4 L834.0,237.9 L834.6,237.4 L835.3,236.5 L836.0,235.6 L836.6,234.6 L837.3,233.4 L837.9,232.1 L838.6,230.7 L839.3,229.2 L839.9,227.4 L840.6,225.7 L841.2,223.8 L841.9,221.9 L842.6,220.0 L843.2,217.9 L843.9,215.8 L844.5,213.7 L845.2,211.6 L845.9,209.6 L846.5,207.4 L847.2,205.1 L847.8,203.0 L848.5,201.4 L849.2,200.0 L849.8,198.6 L850.5,197.3 L851.1,196.3 L851.8,195.7 L852.5,195.3 L853.1,194.8 L853.8,194.1 L854.4,193.3 L855.1,193.1 L855.8,192.9 L856.4,192.6 L857.1,192.4 L857.7,192.4 L858.4,192.4 L859.1,192.1 L859.7,192.2 L860.4,192.4 L861.0,192.8 L861.7,193.1 L862.4,193.6 L863.0,194.0 L863.7,194.3 L864.3,194.7 L865.0,195.2 L865.7,196.1 L866.3,197.0 L867.0,197.8 L867.6,198.6 L868.3,199.6 L869.0,200.4 L869.6,200.9 L870.3,201.5 L870.9,202.3 L871.6,203.2 L872.3,203.8 L872.9,204.2 L873.6,204.7 L874.2,205.4 L874.9,206.2 L875.6,206.9 L876.2,207.8 L876.9,208.7 L877.5,209.4 L878.2,209.9 L878.9,210.6 L879.5,211.6 L880.2,212.7 L880.8,213.7 L881.5,214.7 L882.2,215.9 L882.8,217.1 L883.5,218.5 L884.1,219.7 L884.8,221.1 L885.5,222.5 L886.1,223.9 L886.8,225.4 L887.4,227.0 L888.1,228.5 L888.8,230.1 L889.4,231.9 L890.1,233.9 L890.7,235.7 L891.4,237.4 L892.1,238.7 L892.7,239.8 L893.4,240.7 L894.0,241.7 L894.7,243.0 L895.4,244.5 L896.0,245.9 L896.7,247.2 L897.3,248.6 L898.0,250.2 L898.7,252.2 L899.3,254.7 L900.0,257.4 L900.6,260.2 L901.3,263.8 L902.0,269.6 L902.6,275.8 L903.3,281.6 L903.9,287.8 L904.6,295.1 L905.3,304.2 L905.9,313.8 L906.6,322.7 L907.2,331.0 L907.9,339.8 L908.6,350.1 L909.2,361.6 L909.9,372.6 L910.5,383.1 L911.2,393.0 L911.9,402.3 L912.5,411.1 L913.2,418.7 L913.8,425.5 L914.5,431.7 L915.2,437.2 L915.8,441.9 L916.5,446.1 L917.1,448.9 L917.8,450.7 L918.5,451.2 L919.1,450.1 L919.8,448.3 L920.4,445.2 L921.1,441.1 L921.8,436.1 L922.4,430.0 L923.1,423.6 L923.7,417.6 L924.4,411.9 L925.1,406.1 L925.7,400.7 L926.4,395.8 L927.0,391.7 L927.7,388.3 L928.4,385.4 L929.0,382.8 L929.7,380.1 L930.3,376.9 L931.0,373.1 L931.7,366.6 L932.3,359.3 L933.0,357.0 L933.6,355.4 L934.3,354.3 L935.0,353.5 L935.6,352.9 L936.3,352.6 L936.9,352.2 L937.6,351.6 L938.3,351.5 L938.9,351.8 L939.6,351.4 L940.2,350.7 L940.9,349.8 L941.6,349.6 L942.2,350.0 L942.9,350.6 L943.5,351.1 L944.2,351.8 L944.9,352.0 L945.5,351.9 L946.2,352.3 L946.8,352.7 L947.5,352.8 L948.2,352.8 L948.8,352.7 L949.5,352.8 L950.1,353.1 L950.8,353.5 L951.5,353.4 L952.1,353.2 L952.8,352.9 L953.4,352.4 L954.1,351.7 L954.8,351.0 L955.4,350.4 L956.1,349.7 L956.7,349.2 L957.4,348.9 L958.1,348.7 L958.7,348.0 L959.4,347.2 L960.0,346.5 L960.7,346.0 L961.4,345.5 L962.0,345.2 L962.7,345.0 L963.3,344.7 L964.0,344.3 L964.7,344.2 L965.3,343.9 L966.0,343.7 L966.6,343.8 L967.3,344.0 L968.0,344.1 L968.6,344.8 L969.3,345.0 L969.9,345.3 L970.6,345.6 L971.3,345.9 L971.9,346.0 L972.6,346.9 L973.2,347.8 L973.9,348.4 L974.6,347.4 L975.2,346.8 L975.9,346.4 L976.5,345.9 L977.2,345.2 L977.9,344.7 L978.5,344.2 L979.2,343.6 L979.8,342.8 L980.5,342.1 L981.2,341.1 L981.8,340.1 L982.5,339.0 L983.1,337.8 L983.8,336.5 L984.5,335.1 L985.1,333.8 L985.8,332.5 L986.4,331.1 L987.1,329.5 L987.8,327.9 L988.4,326.5 L989.1,325.4 L989.7,324.3 L990.4,323.4 L991.1,322.4 L991.7,321.3 L992.4,320.4 L993.0,319.7 L993.7,319.1 L994.4,318.5 L995.0,318.5 L995.7,319.0 L996.3,319.3 L997.0,319.8 L997.7,320.6 L998.3,321.7 L999.0,323.0 L999.6,324.1 L1000.3,325.1 L1001.0,326.1 L1001.6,327.2 L1002.3,328.3 L1002.9,329.4 L1003.6,330.4 L1004.3,331.5 L1004.9,332.5 L1005.6,333.4 L1006.2,334.4 L1006.9,335.5 L1007.6,336.6 L1008.2,337.5 L1008.9,338.3 L1009.5,339.0 L1010.2,339.2 L1010.9,338.9 L1011.5,338.8 L1012.2,338.9 L1012.8,338.7 L1013.5,338.4 L1014.2,337.8 L1014.8,337.0 L1015.5,336.0 L1016.1,335.3 L1016.8,334.5 L1017.5,334.0 L1018.1,333.8 L1018.8,333.8 L1019.4,333.2 L1020.1,332.6 L1020.8,332.1 L1021.4,331.9 L1022.1,331.5 L1022.7,330.8 L1023.4,330.2 L1024.1,330.0 L1024.7,330.1 L1025.4,330.3 L1026.0,330.2 L1026.7,330.4 L1027.4,331.1 L1028.0,330.8 L1028.7,330.3 L1029.3,329.3 L1030.0,328.0 L1030.7,327.9 L1031.3,328.5 L1032.0,329.3 L1032.6,329.1 L1033.3,328.9 L1034.0,328.7 L1034.6,329.3 L1035.3,330.0 L1035.9,331.0 L1036.6,331.2 L1037.3,331.4 L1037.9,331.1 L1038.6,330.6 L1039.2,330.8 L1039.9,330.6 L1040.6,330.3 L1041.2,330.2 L1041.9,331.0 L1042.5,331.4 L1043.2,331.4 L1043.9,331.3 L1044.5,331.4 L1045.2,331.4 L1045.8,331.4 L1046.5,331.5 L1047.2,331.6 L1047.8,331.8 L1048.5,332.0 L1049.1,332.3 L1049.8,332.0 L1050.5,331.5 L1051.1,331.8 L1051.8,331.9 L1052.4,331.5 L1053.1,331.5 L1053.8,332.0 L1054.4,332.4 L1055.1,332.8 L1055.7,333.2 L1056.4,333.5 L1057.1,333.4 L1057.7,333.0 L1058.4,332.8 L1059.0,332.7 L1059.7,333.0 L1060.4,333.6 L1061.0,333.9 L1061.7,334.3 L1062.3,334.5 L1063.0,334.2 L1063.7,333.9 L1064.3,334.1 L1065.0,334.6 L1065.6,335.2 L1066.3,335.8 L1067.0,335.3 L1067.6,334.8 L1068.3,334.7 L1068.9,334.7 L1069.6,334.5 L1070.3,334.3 L1070.9,333.9 L1071.6,333.8 L1072.2,333.9 L1072.9,334.1 L1073.6,333.3 L1074.2,332.5 L1074.9,332.3 L1075.5,332.8 L1076.2,333.6 L1076.9,333.9 L1077.5,334.1 L1078.2,334.6 L1078.8,335.1 L1079.5,335.9 L1080.2,336.7 L1080.8,337.4 L1081.5,337.9 L1082.1,338.5 L1082.8,339.1 L1083.5,339.8 L1084.1,340.7 L1084.8,341.2 L1085.4,341.5 L1086.1,341.8 L1086.8,342.4 L1087.4,343.1 L1088.1,343.6 L1088.7,343.4 L1089.4,342.8 L1090.1,342.4 L1090.7,341.6 L1091.4,340.8 L1092.0,339.9 L1092.7,339.1 L1093.4,338.4 L1094.0,338.0 L1094.7,337.7 L1095.3,337.3 L1096.0,336.6 L1096.7,336.0 L1097.3,335.5 L1098.0,335.0 L1098.6,334.2 L1099.3,333.5 L1100.0,332.8 L1100.6,332.0 L1101.3,331.1 L1101.9,330.0 L1102.6,328.8 L1103.3,327.3 L1103.9,325.8 L1104.6,324.3 L1105.2,322.8 L1105.9,321.4 L1106.6,320.5 L1107.2,319.8 L1107.9,319.0 L1108.5,318.2 L1109.2,317.4 L1109.9,317.1 L1110.5,316.8 L1111.2,316.5 L1111.8,316.0 L1112.5,315.5 L1113.2,315.3 L1113.8,314.9 L1114.5,314.7 L1115.1,314.1 L1115.8,313.9 L1116.5,313.7 L1117.1,313.9 L1117.8,314.3 L1118.4,314.8 L1119.1,314.2 L1119.8,313.8 L1120.4,313.9 L1121.1,314.3 L1121.7,314.3 L1122.4,314.3 L1123.1,314.8 L1123.7,315.7 L1124.4,316.5 L1125.0,316.9 L1125.7,316.6 L1126.4,316.7 L1127.0,316.8 L1127.7,317.3 L1128.3,317.5 L1129.0,318.1 L1129.7,318.1 L1130.3,318.3 L1131.0,318.6 L1131.6,318.5 L1132.3,318.4 L1133.0,318.1 L1133.6,317.8 L1134.3,317.7 L1134.9,317.5 L1135.6,317.5 L1136.3,317.4 L1136.9,317.1 L1137.6,316.4 L1138.2,315.4 L1138.9,314.1 L1139.6,312.7 L1140.2,311.5 L1140.9,310.6 L1141.5,310.0 L1142.2,309.5 L1142.9,309.2 L1143.5,309.1 L1144.2,308.6 L1144.8,308.1 L1145.5,307.8 L1146.2,307.7 L1146.8,307.7 L1147.5,308.1 L1148.1,308.1 L1148.8,307.7 L1149.5,307.4 L1150.1,307.1 L1150.8,306.9 L1151.4,306.1 L1152.1,305.4 L1152.8,305.0 L1153.4,305.0 L1154.1,304.8 L1154.7,305.0 L1155.4,305.4 L1156.1,305.7 L1156.7,305.7 L1157.4,305.5 L1158.0,305.2 L1158.7,305.3 L1159.4,305.7 L1160.0,306.0 L1160.7,305.8 L1161.3,306.2 L1162.0,306.0 L1162.7,305.1 L1163.3,304.4 L1164.0,304.8 L1164.6,305.2 L1165.3,305.5 L1166.0,305.7 L1166.6,305.8 L1167.3,306.0 L1167.9,306.4 L1168.6,306.8 L1169.3,307.4 L1169.9,308.2 L1170.6,308.5 L1171.2,308.2 L1171.9,308.0 L1172.6,307.7 L1173.2,307.2 L1173.9,306.4 L1174.5,306.3 L1175.2,306.5 L1175.9,306.3 L1176.5,306.2 L1177.2,306.8 L1177.8,306.9 L1178.5,306.9 L1179.2,307.0 L1179.8,307.1 L1180.5,307.5 L1181.1,307.7 L1181.8,307.5 L1182.5,307.1 L1183.1,306.8 L1183.8,306.6 L1184.4,306.3 L1185.1,305.6 L1185.8,305.1 L1186.4,304.8 L1187.1,305.0 L1187.7,305.1 L1188.4,304.8 L1189.1,304.8 L1189.7,305.0 L1190.4,304.8 L1191.0,304.9 L1191.7,305.0 L1192.4,304.8 L1193.0,304.3 L1193.7,304.4 L1194.3,304.9 L1195.0,305.2 L1195.7,305.1 L1196.3,305.1 L1197.0,305.5 L1197.6,306.1 L1198.3,306.3 L1199.0,306.3 L1199.6,306.0 L1200.3,305.7 L1200.9,305.5 L1201.6,305.6 L1202.3,306.2 L1202.9,306.8 L1203.6,307.6 L1204.2,308.1 L1204.9,308.4 L1205.6,308.7 L1206.2,309.0 L1206.9,309.2 L1207.5,309.2 L1208.2,309.4 L1208.9,309.9 L1209.5,310.1 L1210.2,309.9 L1210.8,309.3 L1211.5,308.8 L1212.2,308.3 L1212.8,307.9 L1213.5,307.5 L1214.1,307.2 L1214.8,306.8 L1215.5,306.7 L1216.1,306.6 L1216.8,307.0 L1217.4,307.6 L1218.1,307.2 L1218.8,306.4 L1219.4,305.8 L1220.1,306.2 L1220.7,306.9 L1221.4,307.4 L1222.1,307.2 L1222.7,307.4 L1223.4,307.5 L1224.0,307.9 L1224.7,307.7 L1225.4,306.9 L1226.0,306.8 L1226.7,306.8 L1227.3,306.4 L1228.0,306.1 L1228.7,306.9 L1229.3,307.0 L1230.0,307.1 L1230.6,307.1 L1231.3,307.6 L1232.0,307.5 L1232.6,307.8 L1233.3,307.7 L1233.9,308.1 L1234.6,308.1 L1235.3,307.9 L1235.9,307.6 L1236.6,307.6 L1237.2,307.7 L1237.9,307.8 L1238.6,307.9 L1239.2,308.1 L1239.9,308.8 L1240.5,308.9 L1241.2,308.9 L1241.9,308.9 L1242.5,308.8 L1243.2,308.6 L1243.8,307.9 L1244.5,307.1 L1245.2,306.6 L1245.8,306.4 L1246.5,306.4 L1247.1,306.4 L1247.8,306.2 L1248.5,306.3 L1249.1,306.8 L1249.8,306.5 L1250.4,306.3 L1251.1,306.5 L1251.8,307.0 L1252.4,307.7 L1253.1,308.3 L1253.7,308.7 L1254.4,309.1 L1255.1,309.6 L1255.7,309.0 L1256.4,308.3 L1257.0,307.7 L1257.7,307.0 L1258.4,306.5 L1259.0,306.0 L1259.7,305.8 L1260.3,306.1 L1261.0,306.3 L1261.7,306.5 L1262.3,306.1 L1263.0,306.1 L1263.6,306.0 L1264.3,306.1 L1265.0,306.2 L1265.6,306.2 L1266.3,306.3 L1266.9,306.6 L1267.6,306.9 L1268.3,307.0 L1268.9,307.2 L1269.6,307.1 L1270.2,306.9 L1270.9,307.4 L1271.6,308.2 L1272.2,308.4 L1272.9,308.2 L1273.5,308.2 L1274.2,308.6 L1274.9,309.1 L1275.5,309.0 L1276.2,309.3 L1276.8,309.7 L1277.5,310.2 L1278.2,310.4 L1278.8,309.9 L1279.5,309.6 L1280.1,309.7 L1280.8,309.9 L1281.5,309.8 L1282.1,310.0 L1282.8,310.6 L1283.4,310.4 L1284.1,309.7 L1284.8,309.4 L1285.4,309.6 L1286.1,309.6 L1286.7,309.2 L1287.4,308.5 L1288.1,308.2 L1288.7,307.6 L1289.4,307.0 L1290.0,306.4 L1290.7,306.2 L1291.4,306.0 L1292.0,305.9 L1292.7,306.3 L1293.3,306.2 L1294.0,305.7 L1294.7,305.9 L1295.3,306.3 L1296.0,306.8 L1296.6,307.1 L1297.3,307.1 L1298.0,307.0 L1298.6,307.5 L1299.3,307.9 L1299.9,308.1 L1300.6,308.1 L1301.3,307.7 L1301.9,307.1 L1302.6,306.9 L1303.2,306.7 L1303.9,306.2 L1304.6,305.6 L1305.2,305.1 L1305.9,304.7 L1306.5,304.2 L1307.2,304.1 L1307.9,303.5 L1308.5,303.3 L1309.2,303.3 L1309.8,303.5 L1310.5,303.2 L1311.2,302.9 L1311.8,303.0 L1312.5,303.8 L1313.1,304.1 L1313.8,304.3 L1314.5,304.6 L1315.1,305.0 L1315.8,305.5 L1316.4,306.1 L1317.1,306.6 L1317.8,306.9 L1318.4,307.5 L1319.1,307.8 L1319.7,307.9 L1320.4,308.2 L1321.1,308.3 L1321.7,308.6 L1322.4,308.6 L1323.0,309.1 L1323.7,309.4 L1324.4,309.5 L1325.0,309.4 L1325.7,309.5 L1326.3,309.9 L1327.0,310.3 L1327.7,311.1 L1328.3,311.4 L1329.0,310.8 L1329.6,310.1 L1330.3,309.9 L1331.0,310.1 L1331.6,310.0 L1332.3,310.0 L1332.9,309.7 L1333.6,309.7 L1334.3,309.8 L1334.9,309.4 L1335.6,308.8 L1336.2,308.2 L1336.9,307.5 L1337.6,307.6 L1338.2,307.9 L1338.9,308.4 L1339.5,308.2 L1340.2,308.4 L1340.9,308.4 L1341.5,308.0 L1342.2,307.9 L1342.8,308.5 L1343.5,308.4 L1344.2,308.6 L1344.8,308.6 L1345.5,308.9 L1346.1,309.1 L1346.8,309.6 L1347.5,310.1 L1348.1,310.4 L1348.8,310.7 L1349.4,311.1 L1350.1,311.0 L1350.8,310.0 L1351.4,309.7 L1352.1,309.5 L1352.7,309.6 L1353.4,309.1 L1354.1,308.8 L1354.7,309.3 L1355.4,309.4 L1356.0,309.1 L1356.7,309.0 L1357.4,309.3 L1358.0,309.9 L1358.7,310.3 L1359.3,310.3 L1360.0,310.2 L1360.7,310.3 L1361.3,309.9 L1362.0,310.0 L1362.6,310.3 L1363.3,310.3 L1364.0,310.6 L1364.6,310.5 L1365.3,310.3 L1365.9,309.8 L1366.6,309.4 L1367.3,308.7 L1367.9,308.6 L1368.6,308.2 L1369.2,307.9 L1369.9,307.1 L1370.6,306.3 L1371.2,305.3 L1371.9,304.5 L1372.5,303.7 L1373.2,303.1 L1373.9,302.9 L1374.5,303.1 L1375.2,303.1 L1375.8,303.2 L1376.5,303.2 L1377.2,303.2 L1377.8,303.8 L1378.5,304.5 L1379.1,304.7 L1379.8,304.9 L1380.5,305.4 L1381.1,305.8 L1381.8,306.1 L1382.4,306.8 L1383.1,307.1 L1383.8,306.1 L1384.4,305.3 L1385.1,304.5 L1385.7,304.1 L1386.4,303.9 L1387.1,303.5 L1387.7,303.1 L1388.4,302.7 L1389.0,302.2 L1389.7,302.1 L1390.4,302.1 L1391.0,301.2 L1391.7,300.1 L1392.3,300.1 L1393.0,300.8 L1393.7,301.5 L1394.3,301.9 L1395.0,301.6 L1395.6,301.3 L1396.3,300.7 L1397.0,300.7 L1397.6,301.1 L1398.3,301.4 L1398.9,301.4 L1399.6,301.5 L1400.3,301.3 L1400.9,301.0 L1401.6,301.0 L1402.2,301.2 L1402.9,301.4 L1403.6,301.6 L1404.2,301.8 L1404.9,302.3 L1405.5,302.9 L1406.2,303.6 L1406.9,304.2 L1407.5,304.6 L1408.2,304.9 L1408.8,305.3 L1409.5,305.6 L1410.2,305.7 L1410.8,305.7 L1411.5,305.8 L1412.1,306.2 L1412.8,306.6 L1413.5,307.1 L1414.1,307.1 L1414.8,307.4 L1415.4,307.8 L1416.1,308.2 L1416.8,308.0 L1417.4,307.9 L1418.1,307.5 L1418.7,307.4 L1419.4,307.6 L1420.1,307.8 L1420.7,307.7 L1421.4,307.4 L1422.0,306.9 L1422.7,306.1 L1423.4,305.8 L1424.0,306.0 L1424.7,306.4 L1425.3,306.2 L1426.0,305.9 L1426.7,305.4 L1427.3,305.2 L1428.0,304.8 L1428.6,304.7 L1429.3,304.3 L1430.0,303.8 L1430.6,303.3 L1431.3,303.4 L1431.9,304.2 L1432.6,304.5 L1433.3,304.1 L1433.9,303.2 L1434.6,302.8 L1435.2,302.5 L1435.9,302.4 L1436.6,302.3 L1437.2,302.1 L1437.9,302.1 L1438.5,302.1 L1439.2,302.0 L1439.9,301.8 L1440.5,301.9 L1441.2,301.6 L1441.8,301.5 L1442.5,301.9 L1443.2,301.8 L1443.8,301.4 L1444.5,301.0 L1445.1,300.5 L1445.8,300.4 L1446.5,301.1 L1447.1,301.7 L1447.8,301.9 L1448.4,301.9 L1449.1,301.6 L1449.8,301.4 L1450.4,300.5 L1451.1,300.2 L1451.7,301.1 L1452.4,301.8 L1453.1,302.0 L1453.7,302.7 L1454.4,302.6 L1455.0,302.4 L1455.7,301.8 L1456.4,301.7 L1457.0,301.8 L1457.7,302.1 L1458.3,301.7 L1459.0,301.5 L1459.7,301.5 L1460.3,301.6 L1461.0,301.0 L1461.6,300.4 L1462.3,300.7 L1463.0,301.7 L1463.6,302.6 L1464.3,302.6 L1464.9,302.8 L1465.6,303.2 L1466.3,303.6 L1466.9,303.9 L1467.6,304.2 L1468.2,304.7 L1468.9,305.3 L1469.6,305.5 L1470.2,305.2 L1470.9,304.5 L1471.5,304.7 L1472.2,304.9 L1472.9,305.5 L1473.5,305.6 L1474.2,305.8 L1474.8,305.6 L1475.5,305.2 L1476.2,305.9 L1476.8,306.3 L1477.5,306.5 L1478.1,306.9 L1478.8,307.4 L1479.5,307.8 L1480.1,308.1 L1480.8,308.2 L1481.4,308.3 L1482.1,308.4 L1482.8,308.3 L1483.4,308.0 L1484.1,307.9 L1484.7,307.4 L1485.4,306.8 L1486.1,306.1 L1486.7,305.5 L1487.4,304.8 L1488.0,304.1 L1488.7,303.5 L1489.4,303.0 L1490.0,303.0 L1490.7,302.8 L1491.3,302.6 L1492.0,302.0 L1492.7,301.6 L1493.3,301.5 L1494.0,301.2 L1494.6,300.7 L1495.3,300.4 L1496.0,300.1 L1496.6,299.9 L1497.3,299.8 L1497.9,299.7 L1498.6,299.8 L1499.3,299.6 L1499.9,299.3 L1500.6,299.0 L1501.2,299.0 L1501.9,298.9 L1502.6,298.6 L1503.2,298.4 L1503.9,298.4 L1504.5,298.5 L1505.2,298.5 L1505.9,298.6 L1506.5,298.3 L1507.2,297.7 L1507.8,297.1 L1508.5,297.1 L1509.2,297.3 L1509.8,297.3 L1510.5,297.2 L1511.1,296.9 L1511.8,296.4 L1512.5,296.2 L1513.1,296.7 L1513.8,297.0 L1514.4,297.6 L1515.1,298.1 L1515.8,298.1 L1516.4,298.2 L1517.1,298.5 L1517.7,298.2 L1518.4,298.4 L1519.1,298.3 L1519.7,298.5 L1520.4,298.7 L1521.0,299.0 L1521.7,298.7 L1522.4,298.2 L1523.0,297.9 L1523.7,297.7 L1524.3,297.6" fill="none" stroke="#4169e1" stroke-width="6.944" stroke-linejoin="round" stroke-linecap="square"/>
<path d="M197.5,552.5 L253.7,552.5" stroke="#4169e1" stroke-width="6.944" stroke-linecap="square" fill="none"/>
<path d="M197.5,594.4 L253.9,594.4" stroke="#808080" stroke-width="6.944" stroke-dasharray="25.69 11.11" fill="none"/>
<path d="M205,636 L205,648" stroke="#555555" stroke-width="4"/>
<path d="M535,636 L535,648" stroke="#555555" stroke-width="4"/>
<path d="M864,636 L864,648" stroke="#555555" stroke-width="4"/>
<path d="M1194,636 L1194,648" stroke="#555555" stroke-width="4"/>
<path d="M1524,636 L1524,648" stroke="#555555" stroke-width="4"/>
<path d="M158,270 L170,270" stroke="#555555" stroke-width="4"/>
<path d="M158,617.1 L170,617.1" stroke="#555555" stroke-width="4"/>
<rect x="172.15" y="8.95" width="1385" height="625.1" fill="none" stroke="#000" stroke-width="4.17"/>
<g font-family="'DejaVu Sans', 'Liberation Sans', sans-serif" font-size="27.78">
<text x="275" y="562.1" fill="#000">Real Single Base Substitutions</text>
<text x="275" y="603.5" fill="#000">Simulated Single Base Substitutions</text>
<text x="187" y="57" fill="#000" letter-spacing="-0.4">SBS1</text>
<text x="1543.1" y="57" fill="#000" text-anchor="end" letter-spacing="-0.1">Lymph-BNHL</text>
<text x="204.7" y="676" fill="#555555" text-anchor="middle">-1000 bp</text>
<text x="534.7" y="676" fill="#555555" text-anchor="middle">-500 bp</text>
<text x="864.9" y="676" fill="#555555" text-anchor="middle">0</text>
<text x="1194.4" y="676" fill="#555555" text-anchor="middle">+500 bp</text>
<text x="1524" y="676" fill="#555555" text-anchor="middle">+1000 bp</text>
<text x="152.7" y="281.1" fill="#555555" text-anchor="end">1.00</text>
<text x="153.0" y="629.3" fill="#555555" text-anchor="end" letter-spacing="-0.3">0.80</text>
<text x="205" y="741" fill="#555555" text-anchor="middle">5’</text>
<text x="1524" y="741" fill="#555555" text-anchor="middle">3’</text>
<text x="864" y="741" fill="#555555" text-anchor="middle">Somatic Mutations Location</text>
<text transform="translate(32,323.4) rotate(-90)" fill="#555555" text-anchor="middle">Average</text>
<text transform="translate(63,323.4) rotate(-90)" fill="#555555" text-anchor="middle">Nucleosome Signal</text>
</g>
</svg>
</body></html>
